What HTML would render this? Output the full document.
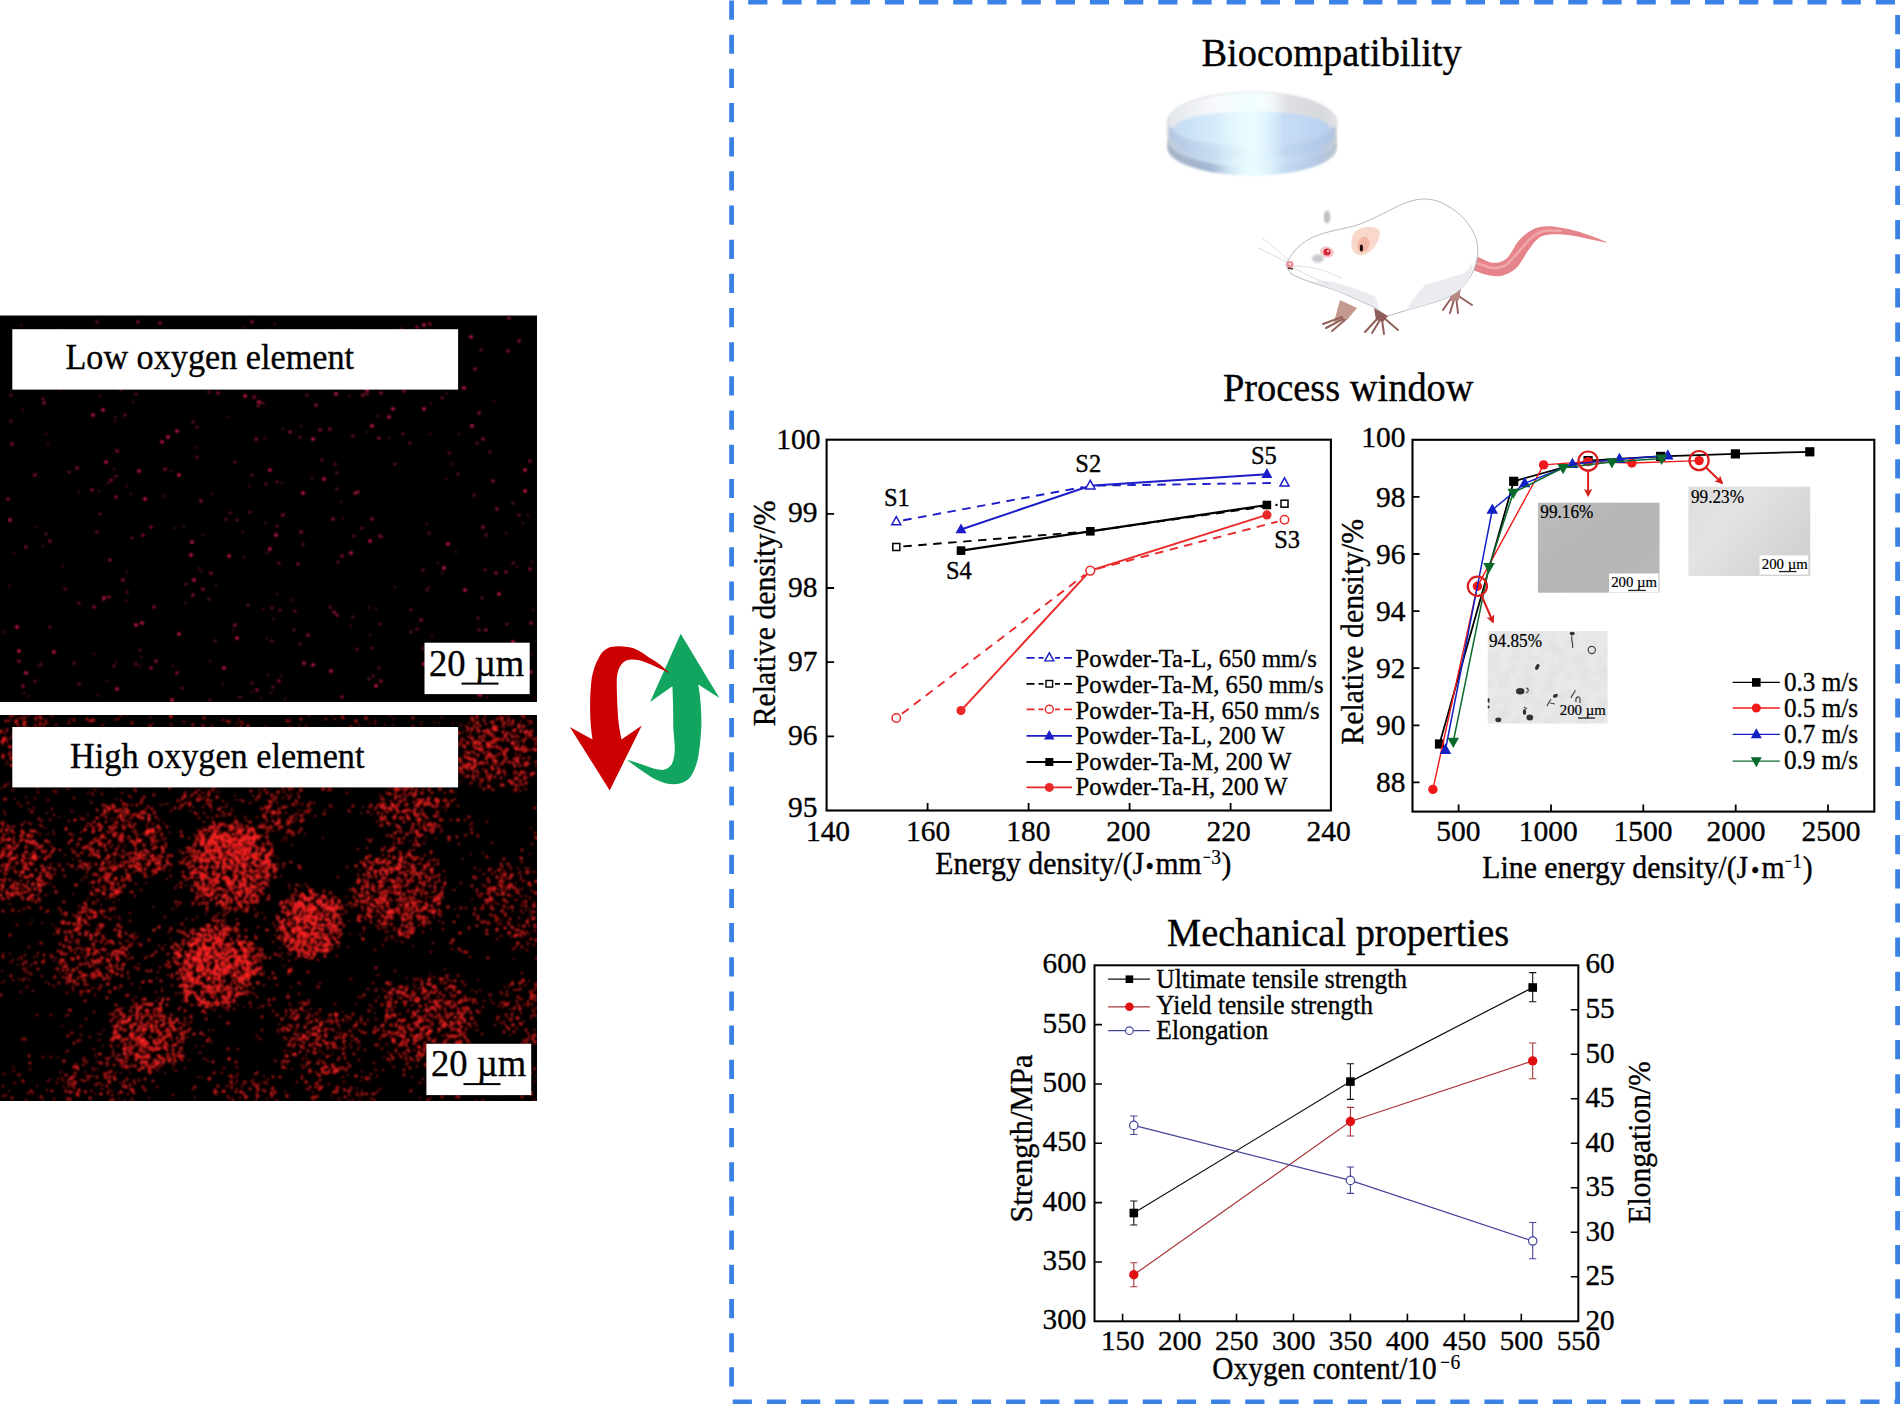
<!DOCTYPE html>
<html lang="en"><head><meta charset="utf-8"><title>Graphical abstract</title>
<style>
html,body{margin:0;padding:0;background:#fff;}
body{width:1900px;height:1404px;overflow:hidden;position:relative;}
svg{position:absolute;left:0;top:0;display:block;}
svg text{font-family:"Liberation Serif",serif;}
</style></head><body>
<svg width="1900" height="1404" viewBox="0 0 1900 1404">
<defs>
<filter id="blur06" x="0" y="0" width="100%" height="100%" filterUnits="userSpaceOnUse"><feGaussianBlur stdDeviation="0.9"/></filter>
<filter id="blur05b" x="0" y="0" width="100%" height="100%" filterUnits="userSpaceOnUse"><feGaussianBlur stdDeviation="0.8"/></filter>
<clipPath id="cpTop"><rect x="0" y="315.5" width="537" height="386.5"/></clipPath>
<clipPath id="cpBot"><rect x="0" y="715" width="537" height="386"/></clipPath>
</defs>
<rect x="0" y="315.5" width="537" height="386.5" fill="#000"/>
<g clip-path="url(#cpTop)"><g filter="url(#blur06)" stroke-linecap="round" fill="none">
<path d="M351,553h0M10,520h0M103,410h0M513,642h0M525,470h0M104,598h0M177,431h0M464,388h0M324,479h0M370,541h0M376,686h0M172,700h0M237,638h0M313,439h0M525,491h0M19,651h0M424,325h0M129,372h0M424,664h0M499,594h0M17,627h0M422,372h0M270,549h0M145,499h0M331,671h0M191,555h0M389,417h0M488,688h0M367,390h0M276,535h0M530,672h0M139,471h0M106,462h0M26,673h0M245,396h0M393,409h0M229,556h0M291,346h0M54,652h0M372,426h0M472,426h0M313,665h0M259,402h0M224,668h0M168,437h0M194,580h0M444,568h0M303,493h0M179,634h0M448,544h0M123,378h0M179,475h0M336,394h0M294,347h0M270,470h0M304,663h0M162,442h0M192,542h0M471,337h0M465,590h0M136,625h0M480,695h0M98,376h0M142,623h0M424,409h0M93,415h0M117,689h0M228,347h0" stroke="#ee2250" stroke-width="3.5"/>
<path d="M425,354h0M355,493h0M379,438h0M337,615h0M406,363h0M50,541h0M486,630h0M23,686h0M320,430h0M386,344h0M151,668h0M34,385h0M307,368h0M138,322h0M363,395h0M381,681h0M92,490h0M380,536h0M383,386h0M428,384h0M508,351h0M453,662h0M256,439h0M417,327h0M123,580h0M284,379h0M483,439h0M475,369h0M218,393h0M387,345h0M252,322h0M342,556h0M506,572h0M160,323h0M257,690h0M358,492h0M404,391h0M23,341h0M201,501h0M334,612h0M493,481h0M193,595h0M235,625h0M479,413h0M530,461h0M111,480h0M519,341h0M60,388h0M121,389h0M94,607h0M283,515h0M530,569h0M8,499h0M86,378h0M342,697h0M440,349h0M203,589h0M531,623h0M330,429h0M290,432h0M211,573h0M109,597h0M12,444h0M349,359h0M483,527h0M177,673h0M301,532h0M156,661h0M308,635h0M430,324h0M143,535h0M372,519h0M165,469h0M509,318h0M19,661h0M254,397h0M494,661h0M110,560h0M44,403h0M381,393h0M316,405h0M496,573h0M26,547h0M154,607h0M151,527h0M497,509h0M298,564h0M279,681h0M421,620h0M168,334h0M333,519h0M35,475h0M77,468h0M348,340h0M117,451h0M295,381h0M116,497h0" stroke="#b81a40" stroke-width="3.2"/>
<path d="M250,512h0M100,514h0M50,627h0M279,563h0M215,641h0M114,666h0M97,532h0M345,363h0M322,460h0M513,503h0M300,644h0M11,421h0M477,693h0M490,452h0M482,651h0M423,648h0M335,464h0M327,349h0M209,599h0M402,329h0M258,406h0M485,570h0M477,443h0M489,654h0M116,476h0M337,489h0M367,394h0M97,322h0M186,584h0M330,607h0M427,679h0M188,350h0M295,611h0M369,679h0M300,437h0M455,688h0M307,395h0M519,515h0M429,533h0M370,343h0M392,365h0M136,394h0M235,462h0M338,562h0M69,472h0M11,395h0M272,608h0M59,332h0M35,681h0M410,443h0M277,482h0M337,473h0M417,629h0M480,654h0M411,610h0M354,536h0M210,700h0M136,664h0M273,687h0M253,383h0M226,519h0M197,427h0M41,664h0M324,362h0M283,365h0M478,618h0M193,422h0M303,544h0M362,528h0M46,534h0M43,399h0M65,589h0M197,457h0M209,392h0M277,526h0M481,350h0M79,603h0M280,610h0M182,688h0M379,668h0M513,563h0M380,624h0M98,342h0M127,592h0M294,630h0M507,624h0M427,590h0M140,650h0M384,355h0M252,683h0M442,398h0M77,354h0M380,387h0M230,513h0M411,632h0M423,570h0M132,538h0M74,663h0M353,436h0M395,464h0M251,373h0M306,384h0M344,332h0M79,684h0M252,475h0M458,474h0M304,664h0M482,598h0M403,434h0M39,366h0M357,649h0M424,365h0M479,630h0M449,453h0M373,676h0M237,520h0M248,605h0M353,617h0M272,641h0M418,381h0M263,403h0M268,331h0M266,484h0M486,535h0M125,415h0M328,333h0M372,648h0M474,495h0M240,697h0" stroke="#78122c" stroke-width="3.0"/>
<path d="M243,532h0M24,693h0M249,486h0M534,698h0M156,345h0M48,445h0M56,341h0M115,421h0M430,434h0M114,469h0M344,356h0M116,417h0M103,600h0M107,681h0M378,416h0M21,325h0M341,502h0M293,600h0M395,587h0M531,654h0M267,553h0M108,483h0M267,638h0M265,438h0M244,327h0M351,626h0M244,557h0M203,535h0M349,396h0M438,563h0M116,662h0M523,523h0M173,666h0M277,594h0M283,429h0M343,518h0M223,684h0M233,630h0M456,552h0M126,601h0M494,401h0M446,479h0M100,396h0M9,586h0M99,491h0M275,324h0M429,587h0M271,693h0M140,666h0M376,609h0M14,553h0M532,562h0M43,546h0M328,340h0M301,426h0M25,378h0M210,661h0M29,696h0M281,676h0M252,692h0M312,478h0M285,699h0M524,668h0M185,603h0M42,364h0M228,417h0M199,568h0M175,528h0M367,432h0M46,434h0M492,677h0M171,471h0M427,524h0M302,385h0M517,567h0M36,527h0M47,349h0M133,402h0M265,523h0M442,573h0M432,637h0M226,374h0M63,566h0M141,657h0M184,527h0M287,376h0M3,632h0M459,434h0M282,378h0M165,496h0M212,494h0M506,533h0M219,346h0M216,585h0M273,619h0M328,378h0M269,372h0M528,515h0M447,393h0M249,365h0M487,697h0M323,365h0M98,695h0M369,608h0M261,698h0M282,483h0M173,339h0M38,666h0M431,403h0M268,675h0M94,654h0M389,438h0M127,572h0M201,571h0M343,352h0M127,486h0M383,537h0M316,352h0M370,635h0M263,609h0M79,492h0M23,410h0M533,610h0M131,494h0M196,447h0M451,464h0" stroke="#420a1a" stroke-width="3.0"/>
</g></g>
<rect x="12.3" y="329.2" width="445.8" height="60.4" fill="#fff"/>
<text transform="translate(65.4,369.3) scale(1,1.045)" font-size="34.2" text-anchor="start" fill="#000" stroke="#000" stroke-width="0.35" >Low oxygen element</text>
<rect x="424.5" y="642.7" width="105.2" height="51.4" fill="#fff"/>
<text transform="translate(429.0,675.8) scale(1,1.045)" font-size="36.6" text-anchor="start" fill="#000" stroke="#000" stroke-width="0.35" >20 µm</text>
<rect x="461.5" y="682.6" width="37" height="2" fill="#000"/>
<rect x="0" y="715" width="537" height="386" fill="#000"/>
<g clip-path="url(#cpBot)"><g filter="url(#blur05b)" stroke-linecap="round" fill="none">
<path d="M189,1060h0M88,793h0M264,1076h0M219,833h0M321,1046h0M299,726h0M519,787h0M336,1088h0M206,914h0M536,766h0M496,746h0M406,1064h0M206,936h0M425,829h0M104,876h0M224,858h0M535,1082h0M268,1084h0M30,924h0M517,772h0M115,720h0M177,1055h0M94,850h0M337,926h0M92,954h0M399,936h0M254,875h0M197,917h0M225,919h0M381,869h0M251,897h0M320,1018h0M362,1077h0M530,854h0M295,907h0M170,833h0M369,1077h0M130,857h0M434,816h0M350,934h0M277,822h0M524,1082h0M361,1016h0M133,943h0M56,754h0M294,1018h0M444,1093h0M387,835h0M7,761h0M170,870h0M177,885h0M436,827h0M146,883h0M56,958h0M26,978h0M49,855h0M185,928h0M258,913h0M510,867h0M289,1004h0M290,888h0M138,814h0M109,748h0M287,759h0M308,1011h0M62,977h0M95,1085h0M70,719h0M189,974h0M11,887h0M404,798h0M483,853h0M513,911h0M204,797h0M238,1005h0M64,876h0M455,909h0M252,901h0M299,810h0M128,838h0M530,724h0M368,897h0M25,840h0M380,795h0M463,859h0M110,970h0M96,902h0M95,1094h0M414,907h0M169,789h0M156,838h0M438,899h0M149,1098h0M127,805h0M159,945h0M510,866h0M457,759h0M347,1021h0M364,862h0M37,1086h0M286,837h0M336,1038h0M239,747h0M510,884h0M302,1075h0M2,828h0M237,738h0M387,860h0M125,1100h0M439,723h0M185,1038h0M406,1055h0M498,1018h0M335,755h0M307,1024h0M91,802h0M480,990h0M381,821h0M13,960h0M332,715h0M324,895h0M47,813h0M395,991h0M521,1072h0M509,722h0M28,968h0M41,742h0M28,972h0M213,1030h0M266,726h0M360,1046h0M266,822h0M220,940h0M246,758h0M109,991h0M362,1071h0M370,1079h0M360,882h0M445,878h0M453,723h0M191,886h0M220,1016h0M353,904h0M198,948h0M106,875h0M183,859h0M387,758h0M46,771h0M227,804h0M11,868h0M313,889h0M134,935h0M159,1030h0M448,980h0M323,1054h0M394,719h0M529,981h0M321,901h0M382,875h0M16,873h0M252,967h0M148,877h0M197,839h0M499,904h0M248,907h0M467,742h0M16,748h0M258,1097h0M457,760h0M120,920h0M12,911h0M524,763h0M136,830h0M292,904h0M332,1054h0M291,987h0M235,859h0M250,749h0M175,1056h0M197,900h0M74,984h0M324,925h0M118,865h0M240,891h0M200,831h0M102,867h0M93,910h0M29,980h0M414,807h0M97,931h0M434,767h0M122,771h0M106,899h0M188,747h0M117,1035h0M125,846h0M421,1058h0M515,929h0M412,1077h0M137,735h0M101,905h0M510,1009h0M254,958h0M344,1049h0M66,1016h0M379,782h0M45,761h0M11,719h0M71,777h0M144,1025h0M256,858h0M401,1046h0M469,723h0M210,841h0M290,1030h0M203,827h0M407,928h0M340,731h0M114,776h0M3,745h0M315,921h0M11,738h0M206,977h0M526,932h0M239,778h0M89,932h0M481,897h0M436,1045h0M381,917h0M70,975h0M26,797h0M398,1031h0M77,949h0M309,959h0M114,806h0M520,1056h0M50,884h0M535,1030h0M436,838h0M279,830h0M504,882h0M284,1031h0M244,960h0M415,891h0M407,978h0M36,849h0M14,858h0M114,836h0M260,826h0M129,772h0M307,1059h0M268,753h0M290,1051h0M397,827h0M499,770h0M56,928h0M193,775h0M442,717h0M96,865h0M36,732h0M190,811h0M96,1057h0M443,1017h0M76,984h0M372,862h0M15,799h0M504,872h0M212,818h0M394,805h0M93,720h0M499,895h0M255,935h0M512,1016h0M282,841h0M159,1068h0M251,857h0M114,902h0M54,869h0M505,1025h0M473,758h0M521,721h0M446,810h0M216,906h0M406,790h0M165,945h0M85,828h0M349,921h0M10,739h0M339,908h0M404,1019h0M384,1057h0M511,937h0M240,800h0M400,863h0M532,1005h0M98,1034h0M310,802h0M488,785h0M32,864h0M74,1081h0M81,928h0M518,868h0M344,1044h0M388,1052h0M491,736h0M405,877h0M291,954h0M253,796h0M373,1008h0M523,913h0M161,805h0M279,828h0M470,998h0M46,877h0M23,864h0M434,917h0M185,1010h0M430,974h0M262,1007h0M286,767h0M434,722h0M73,1087h0M352,1041h0M385,725h0M334,1048h0M236,800h0M491,1000h0M360,741h0M368,879h0M501,874h0M35,962h0M292,1069h0M476,879h0M266,879h0M331,1096h0M342,1012h0M143,1046h0M463,983h0M522,937h0M514,959h0M325,810h0M62,1026h0M295,892h0M14,885h0M529,934h0M494,1061h0M234,970h0M193,902h0M2,983h0M380,817h0M518,874h0M309,1073h0M434,865h0M84,878h0M348,1075h0M198,1077h0M438,1033h0M426,1015h0M235,912h0M181,1007h0M222,812h0M158,742h0M113,731h0M278,1033h0M34,957h0M124,837h0M357,1094h0M158,998h0M371,869h0M213,755h0M282,910h0M150,717h0M241,945h0M431,905h0M323,838h0M291,1005h0M311,1072h0M349,1100h0M193,847h0M432,826h0M100,1083h0M421,864h0M38,758h0M195,930h0M527,942h0M37,768h0M496,1095h0M219,913h0M432,892h0M270,807h0M250,734h0M453,890h0M304,811h0M514,949h0M115,1032h0M455,890h0M193,943h0M67,789h0M309,1072h0M236,952h0M262,871h0M47,736h0M385,816h0M523,786h0M147,780h0M287,840h0M196,1046h0M309,1090h0M235,926h0M6,764h0M109,813h0M22,959h0M165,1073h0M312,1021h0M204,1059h0M237,832h0M166,838h0M136,814h0M132,1100h0M59,817h0M119,955h0M130,1073h0M319,1059h0M303,1042h0M222,807h0M485,723h0M267,1099h0M514,758h0M463,1051h0M255,871h0M160,1039h0M124,1039h0M387,937h0M400,842h0M473,744h0M375,1013h0M96,970h0M40,722h0M284,1037h0M379,997h0M370,1099h0M38,887h0M507,724h0M247,882h0M406,797h0M156,1001h0M455,755h0M259,840h0M259,788h0M292,845h0M186,919h0M239,858h0M529,868h0M5,822h0M129,941h0M165,738h0M73,1092h0M396,1025h0M92,793h0M459,1012h0M282,953h0M517,944h0M100,825h0M294,770h0M360,935h0M375,724h0M268,1004h0M121,1073h0M119,989h0M218,952h0M93,912h0M26,717h0M18,959h0M143,1029h0M393,994h0M531,1019h0M439,879h0M397,994h0M125,854h0M189,806h0M477,878h0M291,1038h0M346,913h0M112,889h0M313,1092h0M455,1059h0M528,944h0M170,1030h0M287,795h0M385,1018h0M182,1001h0M81,1040h0M94,946h0M103,893h0M366,887h0M431,1098h0M349,756h0M372,887h0M439,1055h0M61,913h0M448,746h0M195,1097h0M141,1043h0M261,1006h0M521,875h0M48,834h0M322,900h0M534,1030h0M208,759h0M231,972h0M536,1075h0M137,1057h0M506,887h0M360,1096h0M413,946h0M285,1092h0M142,1000h0M86,877h0M126,715h0M163,950h0M304,814h0M445,969h0M199,904h0M53,831h0M60,741h0M367,839h0M258,1008h0M534,902h0M184,1040h0M135,743h0M232,1078h0M69,722h0M54,978h0M113,845h0M384,895h0M129,1052h0M508,781h0M498,924h0M392,925h0M136,997h0M164,823h0M246,870h0M393,725h0M188,1037h0M372,814h0M396,1052h0M241,847h0M350,890h0M439,921h0M448,801h0M448,1058h0M336,773h0M535,773h0M152,1047h0M480,1011h0M243,781h0M12,840h0M190,802h0M104,814h0M414,984h0M203,1046h0M173,986h0M533,892h0M221,816h0M67,970h0M140,988h0M424,822h0M320,934h0M3,898h0M340,731h0M379,903h0M211,896h0M220,873h0M18,965h0M115,917h0M254,729h0M348,947h0M92,747h0M128,974h0M10,954h0M100,877h0M208,1061h0M147,1014h0M171,939h0M306,1055h0M200,997h0M331,1024h0M419,878h0M315,731h0M491,766h0M276,812h0M350,1044h0M239,719h0M443,807h0M246,976h0M104,1073h0M373,756h0M443,898h0M404,818h0M77,847h0M264,972h0M259,952h0M92,803h0M134,754h0M104,809h0M40,848h0M38,858h0M532,918h0M119,900h0M54,934h0M171,763h0M102,964h0M50,783h0M421,725h0M125,933h0M188,1024h0M529,1035h0M89,844h0M22,889h0M520,1047h0M98,1069h0M45,743h0M13,1067h0M4,981h0M68,789h0M122,974h0M306,1019h0M500,1094h0M284,966h0M378,748h0M297,801h0M356,1004h0M307,1024h0M529,750h0M384,762h0M513,983h0M108,1065h0M172,1063h0M390,716h0M224,816h0M127,825h0M173,909h0M89,850h0M96,778h0M120,1083h0M19,727h0M312,903h0M420,845h0M497,756h0M100,837h0M311,911h0M112,809h0M379,734h0M50,1079h0M350,750h0M458,975h0M113,1049h0M301,886h0M145,864h0M28,742h0M526,872h0M327,1056h0M100,923h0M412,827h0M75,970h0M32,964h0M110,1057h0M134,1003h0M8,834h0M407,1065h0M12,747h0M134,933h0M179,850h0M180,852h0M90,883h0M379,900h0M370,723h0M259,766h0M114,1099h0M148,823h0M137,1023h0M86,959h0M331,790h0M65,855h0M470,735h0M465,740h0M513,981h0M396,892h0M242,1092h0M115,1011h0M264,975h0M193,807h0M146,1067h0M370,874h0M389,985h0M234,845h0M268,1079h0M373,1008h0M290,749h0M200,859h0M112,1091h0M211,1009h0M510,932h0M472,899h0M96,826h0M228,961h0M158,1033h0M292,1014h0M202,743h0M87,777h0M119,1099h0M173,1069h0M263,836h0M288,994h0M42,923h0M426,991h0M139,964h0M191,786h0M376,1000h0M233,949h0M440,897h0M444,888h0M73,745h0M168,967h0M208,802h0M68,1082h0M152,1066h0M158,1043h0M362,1090h0M475,741h0M282,1063h0M110,909h0M372,896h0M170,1020h0M171,985h0M125,755h0M255,994h0M152,982h0M63,765h0M134,1045h0M32,874h0M229,999h0M118,883h0M500,740h0M99,954h0M309,716h0M252,956h0M153,724h0M3,888h0M185,1068h0M14,839h0M364,932h0M142,834h0M386,928h0M139,1081h0M32,886h0M361,813h0M221,837h0M426,874h0M168,804h0M427,865h0M221,889h0M246,850h0M278,815h0M260,791h0M140,1057h0M384,739h0M235,1084h0M54,961h0M268,821h0M101,950h0M520,741h0M209,1030h0M193,935h0M378,749h0M460,1012h0M510,1035h0M506,1085h0M259,896h0M415,838h0M278,858h0M47,867h0M190,798h0M96,819h0M230,837h0M212,811h0M232,892h0M31,965h0M340,1028h0M157,978h0M158,841h0M516,791h0M323,1021h0M107,1066h0M276,1061h0M294,1014h0M40,902h0M136,1061h0M46,912h0M202,1077h0M495,1047h0M23,1082h0M279,1024h0M88,899h0M372,839h0M305,834h0M504,907h0M115,1079h0M238,981h0M530,1044h0M84,1057h0M521,878h0M79,906h0M354,728h0M117,1017h0M125,1039h0M127,934h0M517,1003h0M117,895h0M410,841h0M153,1067h0M220,895h0M531,828h0M213,917h0M114,859h0M118,1094h0M40,873h0M349,890h0M392,901h0M218,1092h0M66,828h0M96,895h0M32,920h0M477,1026h0M241,763h0M528,732h0M361,1081h0M87,909h0M281,876h0M410,1057h0M524,743h0M516,883h0M180,1058h0M10,828h0M25,718h0M21,772h0M349,759h0M218,827h0M2,971h0M134,816h0M520,999h0M224,977h0M389,880h0M440,776h0M335,746h0M288,975h0M428,798h0M396,941h0M91,978h0M276,915h0M431,929h0M455,1046h0M150,1058h0M216,1095h0M512,884h0M508,1018h0M37,956h0M472,990h0M509,1002h0M395,865h0M170,1060h0M61,913h0M79,964h0M23,717h0M388,931h0M225,922h0M282,808h0M120,1028h0M297,1040h0M486,933h0M303,820h0M161,836h0M364,903h0M97,890h0M357,1088h0M424,799h0M534,991h0M294,805h0M109,833h0M283,959h0M235,796h0M25,717h0M459,1010h0M115,1018h0M60,973h0M337,1021h0M284,838h0M37,728h0M470,825h0M488,747h0M398,997h0M359,725h0M433,1022h0M182,1051h0M148,862h0M85,950h0M66,1052h0M382,989h0M478,980h0M81,880h0M330,784h0M136,791h0M218,792h0M8,867h0M420,902h0M202,861h0M343,1067h0M522,907h0M7,874h0M350,1044h0M424,1011h0M209,792h0M91,847h0M505,987h0M85,1064h0M66,1092h0M226,885h0M424,867h0M315,1084h0M79,766h0M72,973h0M264,870h0M307,925h0M532,991h0M463,732h0M337,1033h0M105,886h0M113,1042h0M165,804h0M73,859h0M275,935h0M29,809h0M427,746h0M124,880h0M237,723h0M111,832h0M116,1056h0M514,780h0M53,925h0M439,1066h0M454,792h0M530,909h0M169,1023h0M471,854h0M407,782h0M470,1043h0M335,911h0M106,939h0M376,925h0M362,998h0M426,838h0M129,953h0M88,815h0M85,1072h0M205,941h0M526,910h0M422,722h0M45,828h0M10,904h0M501,1078h0M18,757h0M86,755h0M127,1055h0M210,862h0M123,807h0M58,782h0M492,889h0M170,1017h0M512,723h0M374,810h0M530,731h0M98,964h0M346,897h0M1,788h0M392,1041h0M303,927h0M367,1079h0M375,1094h0M319,1085h0M116,799h0M311,1009h0M477,893h0M407,988h0M398,904h0M531,915h0M104,917h0M480,1093h0M460,782h0M418,864h0M230,733h0M259,826h0M450,1035h0M186,885h0M320,1089h0M67,937h0M235,817h0M103,1046h0M524,1021h0M31,965h0M244,1007h0M95,1054h0M93,963h0M437,1063h0M469,737h0M292,1027h0M75,950h0M25,859h0M426,924h0M44,853h0M67,977h0M425,822h0M17,720h0M73,894h0M296,814h0M232,1086h0M13,766h0M242,1087h0M453,1063h0M58,1057h0M437,1056h0M162,988h0M164,840h0M104,1030h0M317,758h0M69,1087h0M500,716h0M449,806h0M40,727h0M19,979h0M294,835h0M111,976h0M181,1023h0M499,890h0M151,808h0M316,1027h0M13,758h0M153,907h0M384,849h0M388,916h0M113,787h0M196,771h0M417,843h0M185,880h0M433,1002h0M393,888h0M393,846h0M521,858h0M480,870h0M531,890h0M220,1004h0M394,868h0M132,723h0M515,900h0M118,936h0M43,1099h0M501,920h0M241,905h0M281,784h0M443,929h0M170,740h0M148,807h0M58,1079h0M505,916h0M71,1084h0M308,812h0M396,1023h0M206,1059h0M121,1010h0M125,885h0M300,921h0M409,935h0M46,982h0M422,896h0M333,1022h0M110,828h0M9,1091h0M399,987h0M322,904h0M439,994h0M420,1098h0M23,759h0M408,871h0M515,935h0M40,857h0M152,860h0M326,1074h0M262,913h0M58,751h0M432,908h0M301,740h0M113,1056h0M414,979h0M83,949h0M5,873h0M99,885h0M101,1034h0M280,948h0M249,942h0M1,731h0M360,870h0M363,807h0M512,896h0M4,811h0M454,986h0M132,831h0M64,749h0M243,988h0M290,766h0M251,1082h0" stroke="#5c0c0c" stroke-width="2.6"/>
<path d="M348,1063h0M162,948h0M197,938h0M30,1069h0M295,907h0M315,1028h0M399,1054h0M403,915h0M473,774h0M87,826h0M253,1080h0M27,868h0M216,920h0M504,1022h0M28,1093h0M430,860h0M246,978h0M217,925h0M128,972h0M91,892h0M30,908h0M219,842h0M88,985h0M179,1054h0M223,1092h0M48,800h0M383,886h0M468,737h0M18,891h0M391,892h0M87,1076h0M119,891h0M449,1017h0M387,905h0M314,803h0M338,900h0M112,805h0M187,848h0M388,880h0M316,937h0M229,1058h0M237,987h0M113,868h0M403,920h0M38,883h0M14,833h0M273,872h0M520,872h0M129,1018h0M375,899h0M315,1034h0M152,1016h0M183,932h0M71,951h0M522,773h0M107,977h0M209,950h0M60,866h0M429,979h0M280,820h0M422,1031h0M24,909h0M401,887h0M465,836h0M181,974h0M75,941h0M113,1019h0M397,809h0M375,781h0M71,958h0M129,1050h0M207,765h0M166,847h0M530,898h0M384,870h0M400,913h0M263,1006h0M239,849h0M420,1048h0M320,1051h0M297,948h0M329,1056h0M251,1007h0M391,983h0M506,879h0M471,1027h0M312,925h0M522,862h0M190,940h0M208,817h0M224,910h0M360,1101h0M501,1003h0M264,985h0M174,1065h0M119,959h0M199,981h0M108,954h0M479,896h0M309,804h0M459,1021h0M465,777h0M254,903h0M62,770h0M367,753h0M228,776h0M420,1022h0M14,867h0M201,839h0M284,927h0M227,859h0M31,750h0M471,732h0M330,939h0M440,819h0M268,886h0M519,737h0M227,905h0M382,1035h0M85,985h0M169,748h0M259,873h0M426,898h0M1,823h0M380,826h0M343,1037h0M42,976h0M175,888h0M420,821h0M313,912h0M187,857h0M258,927h0M64,914h0M408,891h0M527,1043h0M409,1052h0M382,816h0M248,981h0M317,1033h0M415,993h0M133,1000h0M446,1016h0M376,1070h0M238,994h0M413,829h0M525,985h0M295,1044h0M81,977h0M237,910h0M105,742h0M464,1009h0M495,1025h0M479,895h0M185,1001h0M237,1067h0M394,843h0M177,906h0M499,885h0M297,891h0M306,899h0M231,862h0M347,867h0M86,1092h0M259,1084h0M36,727h0M416,791h0M272,1097h0M260,1039h0M151,1015h0M135,814h0M456,1097h0M152,1021h0M4,741h0M45,777h0M410,774h0M441,1044h0M243,837h0M136,884h0M42,719h0M111,808h0M20,741h0M197,814h0M14,758h0M502,890h0M227,1086h0M358,1049h0M289,961h0M63,924h0M506,734h0M228,835h0M347,1035h0M245,864h0M326,1022h0M474,780h0M207,834h0M533,739h0M77,930h0M132,1099h0M16,732h0M130,1055h0M258,954h0M387,1044h0M390,1018h0M357,1022h0M272,1091h0M461,1032h0M171,725h0M404,886h0M292,835h0M217,866h0M158,760h0M206,925h0M1,851h0M358,849h0M204,1035h0M378,926h0M111,771h0M444,1041h0M387,1002h0M88,823h0M68,1100h0M342,923h0M102,1085h0M503,1060h0M250,857h0M320,1011h0M82,819h0M156,1049h0M229,815h0M417,1066h0M3,1096h0M450,993h0M516,754h0M491,901h0M33,884h0M330,1043h0M5,733h0M287,820h0M241,754h0M180,1033h0M197,878h0M202,799h0M58,745h0M19,911h0M225,814h0M409,882h0M13,892h0M472,759h0M520,791h0M208,960h0M422,902h0M501,924h0M444,885h0M486,759h0M244,878h0M530,991h0M202,985h0M428,1036h0M162,868h0M492,736h0M519,918h0M255,845h0M487,923h0M36,858h0M228,1010h0M3,1086h0M366,881h0M154,840h0M240,756h0M102,843h0M531,1016h0M156,992h0M296,948h0M114,771h0M535,837h0M331,759h0M458,916h0M160,967h0M336,897h0M277,813h0M51,846h0M379,929h0M367,848h0M164,870h0M271,864h0M453,1013h0M93,721h0M108,862h0M101,957h0M35,798h0M268,827h0M209,935h0M155,812h0M223,720h0M441,983h0M117,1031h0M45,745h0M114,897h0M158,832h0M447,1055h0M368,883h0M307,1089h0M250,803h0M241,950h0M67,993h0M48,762h0M48,1081h0M154,1009h0M296,1010h0M228,842h0M210,952h0M468,727h0M265,827h0M467,752h0M378,1045h0M359,759h0M441,1018h0M223,1006h0M414,850h0M526,738h0M447,1001h0M257,1092h0M413,1012h0M331,807h0M204,822h0M328,1020h0M296,918h0M291,795h0M490,896h0M358,1043h0M140,762h0M288,831h0M45,733h0M440,820h0M112,819h0M22,1039h0M95,950h0M13,790h0M126,933h0M438,816h0M167,859h0M515,930h0M224,851h0M297,1036h0M258,899h0M465,1078h0M460,1042h0M145,873h0M126,1056h0M192,783h0M244,851h0M372,896h0M50,753h0M106,917h0M464,1023h0M236,859h0M487,772h0M142,1008h0M404,1026h0M446,1055h0M420,863h0M278,1030h0M424,1046h0M49,759h0M70,981h0M119,845h0M467,1007h0M353,1100h0M117,869h0M459,844h0M256,1100h0M10,747h0M204,894h0M15,745h0M413,781h0M274,871h0M458,976h0M308,946h0M483,769h0M44,960h0M504,871h0M232,1088h0M76,1064h0M389,887h0M186,999h0M238,930h0M75,1083h0M202,967h0M335,1044h0M382,1049h0M193,920h0M420,801h0M409,794h0M141,890h0M466,835h0M9,855h0M297,1082h0M328,791h0M413,905h0M130,913h0M276,732h0M109,736h0M9,721h0M266,829h0M102,1089h0M195,835h0M329,944h0M502,884h0M174,944h0M130,1034h0M111,866h0M137,937h0M316,775h0M529,926h0M47,1090h0M94,979h0M395,928h0M435,801h0M257,1036h0M425,855h0M118,848h0M19,843h0M460,772h0M180,1042h0M257,982h0M420,1083h0M480,786h0M372,904h0M133,1040h0M405,898h0M313,934h0M298,930h0M236,870h0M121,716h0M147,774h0M361,1022h0M338,1048h0M515,1007h0M238,970h0M46,722h0M84,911h0M200,966h0M167,1056h0M83,980h0M130,823h0M23,747h0M498,773h0M171,811h0M231,1087h0M358,875h0M265,877h0M124,1017h0M221,839h0M81,1035h0M408,795h0M506,715h0M61,910h0M237,1089h0M121,800h0M523,759h0M77,948h0M24,755h0M304,754h0M527,871h0M268,841h0M55,869h0M524,1005h0M237,1081h0M529,1038h0M441,1061h0M391,769h0M296,906h0M38,953h0M241,837h0M440,781h0M11,887h0M501,992h0M158,1064h0M391,873h0M195,939h0M535,882h0M344,1089h0M25,745h0M63,1081h0M283,867h0M347,1068h0M157,1070h0M10,848h0M116,850h0M241,850h0M185,983h0M146,1046h0M414,1050h0M424,926h0M255,1074h0M393,893h0M338,1025h0M495,731h0M150,1070h0M406,879h0M532,999h0M98,732h0M208,795h0M436,1039h0M431,952h0M260,779h0M223,904h0M126,1039h0M489,755h0M311,1022h0M102,914h0M275,1061h0M425,1009h0M191,1022h0M506,890h0M302,1065h0M504,727h0M489,742h0M310,1062h0M433,901h0M439,896h0M237,828h0M159,1017h0M26,1100h0M325,786h0M446,976h0M272,1089h0M527,950h0M297,814h0M375,873h0M215,1010h0M286,813h0M139,842h0M427,1067h0M387,835h0M234,871h0M33,883h0M46,895h0M338,947h0M162,991h0M19,751h0M504,1002h0M332,1065h0M315,816h0M308,1023h0M516,730h0M212,899h0M290,751h0M481,762h0M156,873h0M223,986h0M522,999h0M226,1008h0M29,947h0M501,881h0M331,893h0M139,944h0M170,967h0M442,1027h0M311,952h0M286,903h0M3,880h0M474,772h0M440,992h0M391,811h0M387,891h0M418,836h0M482,1034h0M497,1020h0M412,1005h0M203,793h0M512,725h0M304,923h0M377,1076h0M395,886h0M307,940h0M257,1095h0M73,960h0M257,997h0M66,963h0M405,783h0M300,933h0M82,953h0M97,972h0M522,973h0M502,994h0M483,1100h0M31,734h0M0,733h0M480,745h0M326,1033h0M130,877h0M247,877h0M387,1014h0M445,800h0M460,1036h0M42,766h0M237,961h0M81,1080h0M227,913h0M302,816h0M430,788h0M420,1038h0M502,1045h0M333,897h0M93,875h0M507,991h0M26,887h0M413,898h0M277,803h0M113,1037h0M302,804h0M93,795h0M448,1016h0M98,969h0M294,939h0M75,981h0M109,1090h0M525,764h0M87,915h0M338,765h0M422,911h0M228,1096h0M88,846h0M293,804h0M419,925h0M258,1086h0M136,1046h0M191,855h0M532,1004h0M1,857h0M128,959h0M122,862h0M201,893h0M297,804h0M346,1016h0M457,759h0M508,908h0M110,1014h0M116,1073h0M185,859h0M110,767h0M42,826h0M415,903h0M371,863h0M126,941h0M238,951h0M98,818h0M174,949h0M314,943h0M514,747h0M109,876h0M86,910h0M499,882h0M70,841h0M209,987h0M81,818h0M45,755h0M42,770h0M467,769h0M514,759h0M331,1020h0M373,983h0M334,930h0M279,828h0M45,764h0M192,983h0M14,771h0M317,763h0M364,1094h0M49,984h0M8,784h0M114,908h0M465,820h0M193,960h0M267,751h0M428,1034h0M339,1099h0M419,906h0M38,895h0M236,1077h0M29,870h0M224,840h0M110,1083h0M301,815h0M441,994h0M389,916h0M81,965h0M521,879h0M328,764h0M129,796h0M429,980h0M113,748h0M303,1068h0M529,764h0M89,1076h0M494,740h0M118,754h0M429,999h0M428,772h0M381,1026h0M4,1074h0M128,821h0M408,1063h0M99,757h0M277,985h0M209,889h0M169,932h0M219,851h0M132,805h0M51,1057h0M267,867h0M522,1043h0M110,895h0M527,778h0M10,716h0M501,936h0M423,1079h0M437,807h0M111,887h0M293,895h0M375,950h0M444,871h0M192,972h0M220,784h0M238,932h0M423,932h0M318,1096h0M517,1001h0M418,979h0M352,907h0M390,985h0M314,1048h0M415,874h0M106,838h0M318,914h0M165,1031h0M182,743h0M300,1003h0M26,842h0M227,986h0M128,1059h0M465,1033h0M485,716h0M262,810h0M225,945h0M109,810h0M535,1068h0M176,1071h0M146,851h0M431,1009h0M197,858h0M343,1053h0M390,862h0M457,1096h0M35,725h0M163,781h0M163,849h0M291,904h0M455,730h0M411,892h0M383,855h0M452,949h0M241,722h0M323,933h0M196,900h0M366,900h0M236,874h0M496,903h0M157,1032h0M51,879h0M236,827h0M471,829h0M234,1009h0M415,1028h0M519,925h0M146,809h0M264,845h0M534,1069h0M265,918h0M384,809h0M111,959h0M521,896h0M248,902h0M25,859h0M357,729h0M73,835h0M407,898h0M87,873h0M506,886h0M158,972h0M286,1039h0M65,876h0M519,749h0M439,897h0M273,942h0M317,1037h0M200,796h0M241,973h0M46,762h0M56,792h0M13,827h0M528,944h0M193,877h0M5,814h0M284,934h0M440,1010h0M285,1038h0M268,882h0M252,839h0M410,882h0M523,881h0M533,1010h0M158,856h0M309,927h0M220,946h0M395,1007h0M269,978h0M436,1012h0M93,988h0M125,1051h0M415,999h0M17,925h0M383,945h0M120,866h0M196,965h0M354,1027h0M444,801h0M183,1043h0M284,944h0M484,1063h0M269,854h0M146,1043h0M199,790h0M86,991h0M117,811h0M376,1001h0M415,980h0M136,1056h0M356,890h0M154,757h0M534,1011h0M401,862h0M315,950h0M123,1061h0M82,949h0M105,847h0M359,1060h0M389,907h0M486,724h0M62,1078h0M365,918h0M145,958h0M189,865h0M130,1011h0M399,802h0M5,870h0M306,943h0M368,893h0M257,817h0M431,851h0M163,1058h0M306,884h0M528,919h0M407,1040h0M111,884h0M139,1080h0M55,874h0M203,896h0M157,1028h0M390,995h0M214,934h0M83,977h0M452,1028h0M228,958h0M99,925h0M114,1013h0M496,756h0M491,869h0M304,1048h0M326,719h0M422,981h0M249,871h0M417,997h0M110,911h0M490,748h0M45,766h0M70,1100h0M145,877h0M537,1016h0M78,856h0M334,1073h0M438,860h0M443,923h0M184,967h0M479,773h0M213,945h0M278,734h0M241,950h0M286,1015h0M144,812h0M127,1022h0M227,721h0M188,849h0M289,1061h0M494,759h0M230,845h0M68,1084h0M246,820h0M211,1042h0M297,1027h0M212,851h0M103,725h0M90,1037h0M228,989h0M135,1084h0M378,975h0M16,738h0M159,820h0M66,916h0M484,1001h0M87,915h0M151,956h0M324,1031h0M158,841h0M167,1028h0M34,841h0M53,765h0M320,1031h0M441,1021h0M115,909h0M370,909h0M165,1041h0M430,978h0M184,861h0M56,725h0M245,817h0M160,1008h0M117,1016h0M210,1078h0M508,922h0M279,762h0M249,907h0M77,869h0M105,944h0M337,746h0M524,881h0M184,1036h0M111,862h0M201,837h0M296,1030h0M309,1000h0M204,883h0M470,1012h0M204,899h0M131,892h0M294,1054h0M148,806h0M379,893h0M75,1076h0M287,807h0M330,1069h0M386,932h0M194,930h0M93,849h0M381,901h0M118,1046h0M23,839h0M451,981h0M529,872h0M39,732h0M100,840h0M309,955h0M224,1003h0M207,804h0M404,1039h0M526,766h0M483,1007h0M383,928h0M483,923h0M137,838h0M53,740h0M218,961h0M84,819h0M534,1100h0M231,861h0M528,721h0M513,724h0M451,820h0M162,1039h0M196,942h0M49,770h0M524,926h0M391,998h0M85,957h0M167,879h0M393,774h0M21,754h0M413,873h0M329,911h0M157,1046h0M278,955h0M101,961h0M123,1022h0M313,1052h0M147,835h0M388,920h0M359,1041h0M110,875h0M245,975h0M325,919h0M243,1084h0M367,915h0M87,826h0M86,1019h0M66,932h0M536,738h0M26,747h0M68,1080h0M108,855h0M503,764h0M516,735h0M67,1098h0M155,1047h0M134,872h0M300,897h0M385,810h0M395,799h0M533,1036h0M73,915h0M525,1042h0M74,798h0M260,794h0M309,951h0M54,791h0M214,890h0M443,755h0M108,864h0M373,1099h0M302,1007h0M87,948h0M386,874h0M318,960h0M132,867h0M189,838h0M461,951h0M148,1058h0M368,989h0M308,944h0M121,1042h0M121,865h0M296,819h0M123,1063h0M244,854h0M472,823h0M315,936h0M441,1007h0M507,1005h0M117,833h0M492,905h0M429,980h0M131,1027h0M416,1016h0M496,741h0M345,1047h0M247,826h0M223,812h0M394,1067h0M509,717h0M416,805h0M467,731h0M442,895h0M279,938h0M424,874h0M82,991h0M15,715h0M299,940h0M475,1022h0M524,765h0M223,991h0M339,1025h0M401,854h0M30,770h0M241,837h0M147,957h0M9,754h0M74,1088h0M517,1028h0M294,816h0M445,793h0M254,896h0M338,877h0M94,1049h0M231,753h0M99,841h0M120,855h0M403,789h0M484,874h0M530,737h0M170,855h0M29,715h0M400,1032h0M461,725h0M25,955h0M347,905h0M285,1051h0M137,859h0M487,822h0M21,957h0M394,746h0M492,758h0M20,718h0M141,812h0M28,858h0M448,975h0M316,913h0M238,1049h0M347,743h0M530,750h0M30,854h0M122,1008h0M447,1057h0M70,980h0M522,931h0M54,1099h0M385,991h0M122,892h0M224,938h0M525,764h0M115,929h0M461,883h0M118,1024h0M177,1056h0M443,1036h0M115,894h0M43,1057h0M206,1013h0M181,1059h0M93,832h0M11,962h0M357,1095h0M225,826h0M421,894h0M496,742h0M109,747h0M81,920h0M306,1066h0M74,1083h0M290,1043h0M28,900h0M28,803h0M473,720h0M226,855h0M112,1095h0M492,874h0M89,925h0M216,882h0M404,926h0M105,881h0M433,766h0M93,887h0M419,989h0M395,971h0M14,841h0M302,820h0M181,761h0M104,950h0M429,738h0M517,1089h0M106,868h0M330,1029h0M88,985h0M136,867h0M55,736h0M122,877h0M290,1041h0M417,908h0M115,967h0M370,1005h0M326,934h0M288,781h0M316,921h0M228,1002h0M400,797h0M24,758h0M134,938h0M123,881h0M372,780h0M243,911h0M469,1000h0M377,1092h0M357,1093h0M10,861h0M191,867h0M388,982h0M289,824h0M261,808h0M26,972h0M341,1033h0M520,774h0M10,887h0M173,1095h0M343,909h0M256,800h0M214,921h0M316,1072h0M291,789h0M146,1057h0M455,1050h0M135,1084h0M236,968h0M497,939h0M515,1007h0M54,782h0M391,1036h0M56,969h0M525,935h0M193,981h0M4,864h0M359,997h0M404,738h0M241,835h0M197,799h0M204,813h0M447,729h0M271,805h0M214,983h0M130,1067h0M418,857h0M323,1068h0M96,838h0M223,758h0M28,770h0M336,1018h0M64,977h0M240,1098h0M299,1034h0M423,1021h0M291,902h0M141,819h0M191,877h0M208,799h0M370,856h0M310,803h0M518,935h0M534,945h0M493,900h0M526,747h0M499,1006h0M436,807h0M219,931h0M453,1001h0M465,985h0M423,889h0M168,1046h0M63,954h0M187,852h0M180,1029h0M485,921h0M248,906h0M21,881h0M462,768h0M140,1046h0M147,826h0M71,977h0M106,1058h0M89,1078h0M91,842h0M38,792h0M219,809h0M94,839h0M443,929h0M391,992h0M3,954h0M59,864h0M376,1019h0M319,1090h0M284,792h0M59,908h0M343,1049h0M388,1004h0M306,726h0M28,774h0M479,1013h0M15,1083h0M300,907h0M483,905h0M344,1082h0M96,912h0M157,1087h0M337,956h0M483,885h0M426,1064h0M185,1021h0M293,822h0M198,830h0M475,868h0M288,954h0M117,951h0M150,1024h0M286,1068h0M261,848h0M301,1039h0M296,959h0M30,891h0M131,797h0M246,960h0M528,1071h0M298,793h0M98,1062h0M79,957h0M124,866h0M329,1084h0M289,970h0M126,996h0M127,874h0M117,818h0M129,978h0M34,808h0M47,723h0M402,882h0M73,987h0M224,844h0M515,738h0M46,883h0M298,1026h0M111,847h0M296,1055h0M531,912h0M6,845h0M83,1065h0M340,900h0M110,898h0M430,897h0M273,923h0M172,1015h0M203,856h0M245,878h0M430,923h0M226,926h0M51,955h0M293,1047h0M371,1074h0M354,1026h0M123,803h0M161,1006h0M226,968h0M458,806h0M69,821h0M404,1032h0M329,1021h0M420,828h0M240,974h0M55,870h0M233,838h0M433,943h0M231,928h0M495,872h0M59,962h0M351,1047h0M131,741h0M387,836h0M325,1035h0M91,976h0M494,758h0M473,1093h0M233,823h0M438,813h0M526,868h0M343,1069h0M237,919h0M94,955h0M29,835h0M43,885h0M434,1085h0M521,911h0M335,1070h0M223,801h0M54,815h0M269,879h0M390,788h0M54,887h0M480,779h0M363,886h0M349,1095h0M68,1051h0M23,736h0M320,1039h0M79,906h0M466,726h0M235,955h0M499,1050h0M232,1076h0M17,856h0M535,989h0M527,762h0M376,916h0M517,736h0M521,1013h0M285,919h0M171,876h0M13,767h0M176,994h0M295,889h0M96,765h0M9,853h0M520,755h0M246,1098h0M287,833h0M51,864h0M332,899h0M396,775h0M300,733h0M371,736h0M351,979h0M303,1002h0M204,994h0M51,864h0M423,789h0M427,1083h0M136,1005h0M16,756h0M202,877h0M492,1093h0M204,1012h0M93,720h0M141,817h0M439,753h0M441,832h0M141,1031h0M234,909h0M122,793h0M191,1005h0M454,747h0M153,1051h0M320,983h0M203,807h0M472,828h0M477,1003h0M431,1089h0M91,867h0M129,867h0M14,1071h0M98,900h0M447,978h0M385,847h0M310,934h0M418,1046h0M72,811h0M342,1049h0M83,974h0M510,733h0M187,963h0M256,896h0M116,1059h0M359,1030h0M208,741h0M257,798h0M299,994h0M128,1094h0M244,971h0M143,999h0M380,1089h0M227,826h0M92,1076h0M404,900h0M297,948h0M18,725h0M46,755h0M511,869h0M368,1020h0M303,1059h0M314,941h0M522,751h0M535,750h0M383,893h0M452,1036h0M6,1095h0M526,896h0M415,987h0M34,854h0M426,909h0M347,793h0M40,825h0M225,877h0M90,863h0M81,832h0M21,750h0M457,1090h0M487,747h0M320,1009h0M20,872h0M2,858h0M386,807h0M33,1093h0M186,971h0M168,961h0M414,1044h0M293,785h0M95,790h0M146,1024h0M14,837h0M478,722h0M296,904h0M471,764h0M264,1083h0M524,1040h0M440,1062h0M342,914h0M208,863h0M481,909h0M504,1003h0M205,955h0M466,908h0M392,938h0M473,1003h0M368,908h0M119,930h0M319,1029h0M356,772h0M168,975h0M162,1011h0M223,905h0M223,934h0M442,888h0M167,1031h0M365,1050h0M216,935h0M122,1062h0M239,993h0M261,870h0M313,1016h0M235,932h0M228,935h0M390,1033h0M374,1063h0M193,1089h0M233,859h0M177,1030h0M17,856h0M86,912h0M514,774h0M308,887h0M358,894h0M382,904h0M60,929h0M213,729h0M502,726h0M204,957h0M272,1095h0M441,916h0M528,1033h0M118,719h0M487,778h0M338,1060h0M69,932h0M256,948h0M419,807h0M506,915h0M402,942h0M27,987h0M476,1101h0M249,838h0M496,921h0M275,746h0M375,1101h0M157,746h0M28,907h0M273,831h0M125,1086h0M94,948h0M342,716h0M320,918h0M131,1025h0M196,744h0M292,728h0M532,844h0M238,826h0M478,744h0M297,804h0M100,868h0M485,886h0M158,1055h0M392,936h0M290,832h0M441,912h0M270,1005h0M132,1046h0M58,731h0M375,721h0M14,826h0M490,896h0M40,729h0M46,720h0M23,719h0M275,800h0M192,857h0M208,986h0M16,743h0M87,1062h0M61,951h0M31,824h0M519,918h0M447,1017h0M452,1035h0M384,800h0M254,838h0M509,986h0M317,923h0M33,991h0M37,1015h0M200,1053h0M536,1008h0M325,916h0M102,794h0M9,746h0M219,977h0M57,1083h0M4,899h0M68,864h0M390,889h0M184,987h0M165,772h0M134,731h0M400,1014h0M204,830h0M407,995h0M471,1019h0M437,876h0M498,719h0M289,885h0M117,749h0M303,747h0M391,880h0M322,1061h0M317,1014h0M156,1015h0M264,825h0M27,892h0M434,831h0M252,993h0M470,957h0M516,892h0M60,929h0M382,1036h0M335,719h0M380,898h0M390,778h0M409,932h0M184,722h0M13,980h0M153,824h0M228,947h0M132,1049h0M246,897h0M395,1034h0M238,1074h0M277,739h0M377,822h0M274,856h0M141,866h0M271,1093h0M66,973h0M441,1006h0M398,831h0M165,738h0M50,820h0M246,991h0M132,984h0M108,984h0M283,798h0M247,908h0M75,953h0M461,1012h0M338,1068h0M94,966h0M522,904h0M467,764h0M405,805h0M417,789h0M115,862h0M80,948h0M410,811h0M477,1030h0M476,992h0M362,916h0M42,821h0M223,968h0M199,818h0M273,799h0M99,1040h0M185,987h0M380,756h0M72,934h0M185,1018h0M191,1018h0M279,808h0M535,833h0M414,825h0M94,1070h0M363,887h0M232,810h0M378,904h0M366,919h0M129,761h0M281,940h0M7,742h0M212,726h0M105,838h0M129,814h0M412,858h0M343,1077h0M25,822h0M266,1082h0M421,980h0M110,1101h0M520,775h0M18,803h0M508,1056h0M65,954h0M272,816h0M404,913h0M292,1039h0M489,781h0M33,729h0M367,870h0M155,1031h0M64,1087h0M504,892h0M398,1036h0M432,1023h0M363,910h0M246,826h0M439,800h0M386,740h0M117,827h0M198,1004h0M226,807h0M235,728h0M54,986h0M224,933h0M67,967h0M109,740h0M67,924h0M69,723h0M404,920h0M155,869h0M54,834h0M119,917h0M208,873h0M475,1024h0M165,1023h0M158,1022h0M72,849h0M517,990h0M124,1018h0M165,917h0M201,874h0M493,1003h0M21,992h0M101,929h0M108,1077h0M403,872h0M44,852h0M480,783h0M260,874h0M16,872h0M200,799h0M248,853h0M292,835h0M425,1048h0M226,879h0M219,936h0M234,844h0M428,866h0M195,793h0M73,990h0M153,875h0M94,1012h0M93,1068h0M522,889h0M90,771h0M209,1002h0M310,1062h0M201,874h0M524,758h0M399,914h0M155,835h0M514,990h0M456,743h0M308,813h0M255,909h0M140,868h0M309,1037h0M196,857h0M382,900h0M215,1002h0M455,780h0M232,746h0M272,867h0M422,870h0M217,842h0M68,1015h0M382,1027h0M424,993h0M17,724h0M126,956h0M326,1044h0M440,1080h0M171,928h0M94,961h0M262,1030h0M163,839h0M340,1038h0M455,799h0M335,1004h0M394,838h0M290,721h0M413,1060h0M131,1065h0M181,964h0M293,1055h0M438,997h0M1,889h0M307,938h0M172,1046h0M394,819h0M406,1055h0M387,1009h0M420,880h0M412,992h0M472,751h0M407,871h0M113,1026h0M225,907h0M228,836h0M81,1026h0M195,851h0M13,733h0M216,964h0M230,757h0M190,932h0M40,834h0M241,826h0M419,1018h0M243,723h0M306,928h0M296,895h0M380,1039h0M380,818h0M502,739h0M520,1023h0M423,1037h0M314,1101h0M385,809h0M528,921h0M526,735h0M8,870h0M424,843h0M335,1047h0M503,1007h0M447,1019h0M180,993h0M199,952h0M365,883h0M488,879h0M407,1046h0M141,1051h0M37,832h0M161,1066h0M313,951h0M70,975h0M222,1073h0M394,930h0M214,875h0M275,926h0M46,840h0M300,1045h0M10,840h0M229,911h0M380,859h0M390,1061h0M528,872h0M81,995h0M117,867h0M202,878h0M409,870h0M296,764h0M408,890h0M95,995h0M259,870h0M131,840h0M232,848h0M442,829h0M224,962h0M135,967h0M233,830h0M169,1036h0M403,769h0M244,902h0M302,948h0M483,779h0M339,1036h0M130,921h0M235,893h0M313,1052h0M62,759h0M294,833h0M513,949h0M133,754h0M259,886h0M130,1036h0M61,1072h0M391,801h0M17,855h0M278,864h0M99,891h0M462,981h0M190,987h0M256,970h0M114,774h0M135,896h0M322,952h0M179,954h0M432,1015h0M395,824h0M293,788h0M492,843h0M433,1017h0M244,978h0M135,1056h0M29,823h0M385,882h0M382,813h0M386,895h0M52,809h0M88,865h0M204,890h0M383,1070h0M330,805h0M150,837h0M88,1080h0M229,1098h0M356,900h0M463,745h0M94,882h0M165,1060h0M162,1040h0M289,1025h0M283,1062h0M411,811h0M52,716h0M213,988h0M381,870h0M100,879h0M392,806h0M172,1040h0M233,865h0M417,902h0M490,734h0M534,872h0M51,1015h0M517,741h0M346,911h0M179,1023h0M119,1009h0M88,917h0M179,862h0M200,960h0M403,843h0M33,899h0M21,806h0M213,872h0M304,1011h0M146,834h0M240,852h0M535,931h0M146,859h0M199,795h0M413,991h0M392,912h0M52,875h0M302,935h0M382,1004h0M526,789h0M280,905h0M501,1023h0M246,867h0M403,918h0M255,834h0M300,927h0M386,940h0M316,1013h0M291,936h0M171,1014h0M467,952h0M509,725h0M482,763h0M516,1018h0M263,1090h0M140,1026h0M272,794h0M133,1015h0M174,961h0M82,738h0M470,764h0M7,849h0M305,932h0M396,814h0M527,932h0M193,1005h0M91,1091h0M347,1017h0M313,939h0M366,883h0M262,824h0M154,1042h0M517,900h0M516,947h0M465,1075h0M150,1073h0M211,880h0M388,864h0M12,765h0M517,990h0M120,950h0M511,1019h0M250,884h0M21,743h0M524,901h0M253,988h0M134,939h0M7,897h0M141,1052h0M86,908h0M163,1039h0M463,1009h0M36,720h0M273,1011h0M532,1036h0M247,995h0M115,1028h0M199,888h0M408,1041h0M280,956h0M140,854h0M32,901h0M434,977h0M265,826h0M519,737h0M142,872h0M106,1078h0M122,825h0M137,1055h0M329,901h0M148,1070h0M373,900h0M76,1082h0M447,1063h0M367,873h0M347,793h0M139,745h0M22,752h0M105,810h0M22,889h0M38,732h0M227,870h0M303,956h0M427,1033h0M224,1068h0M205,786h0" stroke="#8e1111" stroke-width="2.7"/>
<path d="M31,1091h0M97,1084h0M0,871h0M477,926h0M536,986h0M504,859h0M524,717h0M290,903h0M310,810h0M195,843h0M444,996h0M116,822h0M2,866h0M302,948h0M369,911h0M406,1059h0M116,878h0M209,958h0M95,768h0M301,719h0M206,961h0M508,895h0M86,906h0M414,1038h0M256,916h0M242,873h0M111,1071h0M258,902h0M178,979h0M404,1075h0M25,892h0M267,878h0M67,979h0M381,897h0M78,978h0M264,868h0M339,1058h0M497,918h0M390,992h0M435,911h0M245,985h0M22,897h0M494,728h0M82,759h0M224,864h0M404,1053h0M215,994h0M427,1034h0M90,721h0M12,715h0M429,865h0M298,1015h0M275,954h0M465,757h0M113,805h0M394,760h0M236,896h0M228,1003h0M15,888h0M4,882h0M79,913h0M332,1022h0M126,862h0M459,1023h0M527,731h0M247,843h0M286,941h0M102,827h0M246,961h0M244,968h0M257,902h0M257,871h0M291,969h0M291,820h0M447,806h0M526,765h0M218,940h0M23,885h0M207,800h0M204,949h0M514,1009h0M462,1018h0M484,1091h0M384,923h0M183,872h0M60,850h0M406,857h0M111,889h0M480,763h0M501,778h0M307,811h0M91,912h0M202,868h0M429,911h0M305,935h0M9,839h0M122,880h0M101,765h0M118,884h0M41,1097h0M514,731h0M227,969h0M343,1020h0M235,962h0M324,911h0M250,1089h0M295,917h0M193,965h0M391,869h0M371,922h0M405,932h0M463,1034h0M526,906h0M414,928h0M204,1003h0M516,749h0M274,869h0M69,843h0M422,859h0M250,1003h0M116,854h0M245,871h0M187,996h0M376,990h0M104,877h0M215,891h0M294,948h0M116,850h0M370,868h0M66,954h0M306,921h0M439,826h0M320,1026h0M399,884h0M314,954h0M432,873h0M12,887h0M104,731h0M49,873h0M96,962h0M103,925h0M416,794h0M224,971h0M518,997h0M430,825h0M125,863h0M450,1045h0M222,842h0M385,860h0M108,1093h0M129,837h0M114,825h0M410,851h0M114,890h0M13,910h0M226,894h0M439,900h0M161,1008h0M137,863h0M350,728h0M502,881h0M471,767h0M238,853h0M204,946h0M368,876h0M200,934h0M219,985h0M274,748h0M290,728h0M371,877h0M149,940h0M164,1016h0M202,745h0M382,892h0M414,794h0M284,1061h0M109,979h0M225,897h0M66,937h0M432,825h0M154,813h0M234,1002h0M507,749h0M146,1045h0M125,1030h0M119,1055h0M317,764h0M522,850h0M207,907h0M213,790h0M426,893h0M174,1058h0M186,961h0M190,965h0M80,861h0M244,854h0M213,839h0M500,772h0M19,1075h0M78,1041h0M335,1046h0M150,832h0M408,907h0M487,733h0M497,929h0M228,837h0M436,1017h0M168,1033h0M198,966h0M3,825h0M480,750h0M226,908h0M515,772h0M184,1025h0M119,840h0M239,881h0M308,1018h0M268,844h0M404,873h0M24,867h0M154,831h0M57,761h0M85,1092h0M382,850h0M477,728h0M385,808h0M456,1042h0M462,1048h0M381,894h0M480,726h0M237,929h0M32,743h0M228,927h0M78,1093h0M312,906h0M216,916h0M186,784h0M14,859h0M210,879h0M146,1011h0M430,754h0M534,1015h0M85,921h0M135,845h0M415,868h0M10,935h0M100,827h0M142,1017h0M13,736h0M231,869h0M188,962h0M41,752h0M355,892h0M324,1068h0M131,841h0M273,1077h0M248,828h0M116,868h0M298,930h0M440,903h0M106,850h0M149,1057h0M437,812h0M209,844h0M526,902h0M404,822h0M118,1060h0M235,880h0M397,867h0M153,1081h0M136,859h0M536,744h0M311,894h0M157,1065h0M455,981h0M405,1002h0M297,926h0M111,1046h0M168,1057h0M64,902h0M497,719h0M287,824h0M260,949h0M399,843h0M241,831h0M187,954h0M493,756h0M488,889h0M274,865h0M79,928h0M25,749h0M417,806h0M449,987h0M255,856h0M467,758h0M247,889h0M198,963h0M227,852h0M57,750h0M257,1073h0M439,1001h0M103,936h0M488,958h0M94,822h0M260,836h0M312,1098h0M106,873h0M367,1094h0M107,1086h0M430,886h0M114,1065h0M240,863h0M151,1005h0M249,977h0M206,974h0M370,807h0M427,1009h0M401,1057h0M116,765h0M301,912h0M383,902h0M218,991h0M197,873h0M515,759h0M299,832h0M416,841h0M58,933h0M189,868h0M272,850h0M121,1028h0M400,858h0M244,878h0M243,854h0M379,912h0M225,833h0M413,824h0M191,967h0M397,791h0M531,722h0M181,1028h0M407,804h0M41,874h0M427,877h0M505,914h0M420,883h0M156,952h0M350,1066h0M298,1025h0M502,887h0M193,873h0M435,891h0M264,817h0M134,1036h0M487,903h0M222,906h0M508,1004h0M404,1020h0M259,827h0M441,1054h0M201,1004h0M218,864h0M337,1014h0M228,929h0M44,955h0M399,894h0M162,857h0M478,919h0M378,1030h0M271,844h0M447,1035h0M341,1068h0M74,720h0M141,1045h0M424,828h0M104,911h0M175,808h0M356,734h0M202,983h0M286,1011h0M258,1096h0M15,882h0M132,763h0M361,902h0M382,883h0M228,867h0M184,940h0M311,898h0M78,957h0M171,929h0M191,849h0M342,906h0M210,805h0M504,771h0M290,914h0M166,844h0M235,983h0M411,899h0M108,942h0M387,865h0M84,732h0M423,920h0M15,849h0M301,816h0M376,968h0M403,1041h0M177,1038h0M121,927h0M401,855h0M229,963h0M317,895h0M291,1017h0M279,822h0M474,746h0M95,855h0M387,906h0M240,832h0M523,727h0M293,1013h0M70,932h0M376,877h0M353,1014h0M375,874h0M143,1087h0M93,828h0M300,1052h0M85,980h0M40,724h0M144,797h0M440,979h0M419,901h0M288,900h0M9,898h0M318,915h0M244,884h0M254,957h0M269,875h0M151,971h0M457,1036h0M427,1020h0M501,885h0M449,1057h0M233,949h0M122,948h0M290,913h0M196,771h0M173,1023h0M426,903h0M531,775h0M375,891h0M417,1041h0M498,1017h0M286,1056h0M215,967h0M383,916h0M251,791h0M209,1039h0M142,800h0M377,862h0M256,888h0M30,862h0M461,1016h0M140,870h0M124,829h0M78,1069h0M461,1000h0M246,930h0M465,756h0M311,923h0M16,858h0M382,825h0M117,823h0M382,799h0M167,1005h0M398,869h0M181,832h0M397,881h0M131,1036h0M126,870h0M10,753h0M501,749h0M124,821h0M289,947h0M156,817h0M183,941h0M201,962h0M133,815h0M494,728h0M101,942h0M267,833h0M412,924h0M405,899h0M316,1087h0M372,910h0M91,748h0M253,944h0M482,747h0M315,762h0M494,742h0M269,830h0M418,779h0M477,716h0M137,870h0M310,1087h0M521,784h0M320,1080h0M316,1097h0M211,807h0M383,910h0M10,846h0M239,829h0M376,808h0M424,1054h0M309,928h0M328,926h0M524,726h0M215,993h0M197,855h0M455,1029h0M432,1025h0M243,801h0M217,889h0M370,869h0M35,856h0M155,842h0M138,1055h0M102,976h0M190,955h0M58,951h0M200,938h0M236,844h0M376,1045h0M187,992h0M468,1041h0M499,754h0M195,882h0M419,824h0M186,952h0M252,964h0M234,974h0M487,731h0M138,855h0M212,738h0M296,929h0M108,1073h0M193,756h0M484,753h0M263,844h0M372,905h0M396,1024h0M236,908h0M517,779h0M473,721h0M126,879h0M195,983h0M447,1040h0M455,1006h0M246,848h0M249,888h0M509,924h0M42,755h0M293,805h0M335,907h0M246,853h0M231,842h0M214,1003h0M219,968h0M493,735h0M431,1030h0M124,1023h0M109,842h0M484,789h0M210,973h0M52,957h0M184,993h0M151,748h0M111,1040h0M134,866h0M110,971h0M203,860h0M126,949h0M273,973h0M10,880h0M203,726h0M289,789h0M305,935h0M24,723h0M191,967h0M181,932h0M130,858h0M118,1022h0M229,842h0M392,911h0M392,1010h0M448,1076h0M385,921h0M531,993h0M193,725h0M116,879h0M141,1014h0M201,952h0M178,1042h0M214,823h0M50,737h0M270,852h0M114,866h0M38,969h0M292,832h0M424,826h0M238,986h0M218,863h0M249,975h0M218,1086h0M12,1098h0M244,1094h0M497,727h0M143,855h0M13,848h0M144,1033h0M18,758h0M30,1063h0M137,1057h0M490,891h0M431,911h0M316,1041h0M182,1060h0M154,795h0M339,943h0M104,846h0M351,1088h0M414,1023h0M445,1009h0M130,1043h0M429,1021h0M120,943h0M235,851h0M434,993h0M204,942h0M223,862h0M152,809h0M229,996h0M295,1034h0M425,773h0M394,913h0M169,1030h0M523,1073h0M275,872h0M491,915h0M261,849h0M404,786h0M132,1029h0M150,1066h0M464,765h0M392,1015h0M209,885h0M168,856h0M436,745h0M231,939h0M524,779h0M391,1055h0M217,940h0M366,859h0M70,978h0M133,1025h0M302,919h0M209,970h0M279,811h0M372,776h0M237,852h0M22,825h0M71,1084h0M157,864h0M241,945h0M134,1081h0M243,969h0M215,849h0M220,848h0M177,951h0M204,968h0M226,866h0M359,879h0M427,877h0M427,1011h0M184,933h0M434,910h0M449,840h0M500,748h0M436,991h0M399,812h0M535,927h0M219,757h0M400,796h0M459,1018h0M327,936h0M384,1031h0M0,857h0M146,835h0M297,931h0M248,992h0M35,860h0M307,936h0M408,1027h0M333,1030h0M434,901h0M326,1067h0M315,917h0M502,867h0M417,858h0M172,975h0M183,853h0M284,864h0M295,905h0M110,965h0M6,866h0M68,970h0M167,861h0M316,934h0M186,955h0M249,892h0M243,776h0M423,908h0M23,772h0M97,810h0M212,888h0M238,962h0M184,735h0M420,803h0M130,1085h0M210,852h0M388,1059h0M121,1064h0M252,951h0M525,777h0M411,1059h0M67,983h0M153,1063h0M239,841h0M420,738h0M207,891h0M126,1062h0M257,897h0M315,764h0M287,946h0M270,806h0M387,793h0M210,949h0M509,895h0M141,1007h0M503,752h0M230,992h0M8,864h0M197,893h0M477,748h0M364,875h0M378,907h0M255,901h0M227,945h0M403,994h0M153,955h0M318,945h0M511,1020h0M326,1066h0M442,895h0M308,806h0M462,1014h0M341,923h0M126,1058h0M11,851h0M263,894h0M179,952h0M248,945h0M195,813h0M395,848h0M331,929h0M145,1057h0M294,910h0M184,977h0M246,891h0M261,957h0M294,1039h0M459,745h0M26,867h0M445,983h0M52,1091h0M436,900h0M190,954h0M74,1043h0M95,841h0M391,1003h0M365,1024h0M377,911h0M117,965h0M432,906h0M209,846h0M284,920h0M294,1045h0M92,960h0M324,945h0M213,894h0M128,995h0M402,818h0M453,987h0M185,793h0M416,902h0M227,852h0M225,969h0M71,949h0M78,931h0M207,910h0M247,986h0M396,789h0M92,852h0M324,891h0M167,1050h0M267,860h0M289,947h0M360,921h0M438,1006h0M210,831h0M123,1086h0M261,892h0M411,873h0M493,888h0M6,739h0M168,1054h0M241,851h0M131,1089h0M99,989h0M234,968h0M269,808h0M132,861h0M97,818h0M206,871h0M236,899h0M429,881h0M209,889h0M495,1088h0M455,1037h0M338,1071h0M78,943h0M205,958h0M406,766h0M134,862h0M241,825h0M492,766h0M108,1059h0M306,952h0M201,861h0M117,890h0M25,742h0M98,951h0M3,853h0M510,884h0M115,836h0M153,849h0M43,775h0M452,1073h0M137,1004h0M350,903h0M274,768h0M388,1006h0M405,1020h0M334,1072h0M246,969h0M265,877h0M150,1037h0M185,877h0M233,980h0M400,818h0M262,950h0M401,880h0M112,1100h0M478,836h0M497,920h0M324,1063h0M245,843h0M282,1030h0M414,1012h0M27,762h0M66,1091h0M471,783h0M408,918h0M94,830h0M136,842h0M251,846h0M176,944h0M194,850h0M406,1043h0M137,835h0M331,733h0M132,958h0M243,731h0M171,865h0M308,972h0M487,759h0M157,859h0M50,856h0M180,903h0M318,1029h0M228,891h0M395,1015h0M446,1013h0M320,1036h0M54,741h0M72,937h0M249,948h0M206,846h0M209,979h0M125,816h0M455,1004h0M89,951h0M215,830h0M411,918h0M522,772h0M478,916h0M200,833h0M288,910h0M291,862h0M387,812h0M423,1030h0M36,870h0M132,1053h0M452,996h0M405,800h0M416,858h0M52,774h0M20,740h0M208,830h0M406,1002h0M460,1003h0M244,975h0M178,958h0M207,851h0M207,762h0M108,807h0M106,817h0M6,721h0M110,841h0M318,1075h0M535,1000h0M102,753h0M184,966h0M503,740h0M85,848h0M122,839h0M261,967h0M135,832h0M96,941h0M137,1044h0M518,890h0M115,811h0M309,936h0M191,950h0M159,1057h0M208,926h0M302,1078h0M216,956h0M218,864h0M333,937h0M168,863h0M46,851h0M255,956h0M387,1011h0M214,871h0M222,953h0M254,846h0M154,1012h0M145,1079h0M514,1032h0M305,954h0M382,1005h0M215,832h0M191,1016h0M215,934h0M388,869h0M382,915h0M318,925h0M111,896h0M145,1016h0M106,822h0M134,1093h0M101,986h0M320,1075h0M28,899h0M416,906h0M327,1057h0M113,763h0M164,1023h0M475,767h0M186,803h0M236,989h0M444,1027h0M36,963h0M417,1037h0M148,1022h0M495,916h0M525,773h0M391,914h0M369,873h0M401,862h0M442,1000h0M373,890h0M354,1054h0M372,889h0M316,919h0M96,951h0M484,720h0M514,888h0M305,910h0M235,952h0M226,971h0M202,930h0M219,986h0M211,995h0M198,968h0M34,852h0M416,873h0M88,963h0M248,903h0M345,1034h0M507,995h0M338,1087h0M352,767h0M482,894h0M162,834h0M312,933h0M487,763h0M22,873h0M400,888h0M58,969h0M30,842h0M281,741h0M515,790h0M74,1085h0M192,978h0M443,1021h0M211,948h0M286,932h0M202,995h0M5,879h0M409,931h0M90,849h0M216,962h0M217,938h0M121,1020h0M278,762h0M261,883h0M207,1003h0M365,1033h0M109,843h0M258,836h0M10,854h0M331,949h0M113,1053h0M143,859h0M410,1068h0M324,814h0M8,894h0M149,1055h0M227,989h0M387,903h0M63,961h0M391,924h0M406,1045h0M314,924h0M237,900h0M17,737h0M243,838h0M29,1056h0M409,810h0M286,932h0M397,900h0M334,931h0M300,868h0M235,982h0M242,832h0M536,762h0M445,1003h0M313,1044h0M212,882h0M12,895h0M44,763h0M421,803h0M142,1025h0M155,1016h0M229,852h0M512,886h0M504,906h0M124,751h0M270,958h0M452,801h0M411,919h0M221,963h0M280,937h0M26,852h0M401,998h0M7,730h0M461,908h0M212,939h0M244,840h0M375,1032h0M118,1026h0M529,758h0M266,878h0M135,824h0M228,878h0M327,939h0M105,878h0M344,926h0M154,848h0M65,966h0M293,910h0M490,777h0M141,840h0M135,857h0M223,936h0M362,893h0M292,896h0M143,734h0M218,954h0M425,816h0M490,995h0M401,832h0M501,785h0M518,745h0M164,1047h0M227,972h0M188,986h0M201,960h0M96,864h0M230,837h0M236,976h0M233,893h0M248,844h0M280,813h0M230,1076h0M83,848h0M428,1100h0M160,1011h0M296,929h0M16,722h0M247,963h0M220,940h0M198,853h0M220,826h0M139,817h0M213,920h0M123,730h0M381,804h0M369,862h0M137,805h0M409,783h0M125,955h0M236,857h0M137,1042h0M420,911h0M62,954h0M242,893h0M208,979h0M461,742h0M81,964h0M85,1001h0M202,964h0M369,1011h0M297,928h0M234,876h0M84,1060h0M41,908h0M317,1021h0M382,798h0M65,768h0M362,1032h0M296,912h0M221,954h0M203,883h0M302,906h0M290,926h0M168,1030h0M159,1013h0M487,756h0M301,897h0M334,922h0M4,852h0M42,851h0M83,868h0M314,896h0M222,997h0M239,840h0M472,833h0M171,717h0M221,856h0M422,892h0M399,909h0M386,1035h0M140,870h0M337,933h0M145,875h0M404,838h0M391,993h0M199,872h0M414,898h0M361,1019h0M85,964h0M477,890h0M188,879h0M23,834h0M321,945h0M465,747h0M207,761h0M427,818h0M474,753h0M46,872h0M511,875h0M137,1012h0M105,1074h0M269,862h0M424,907h0M332,901h0M224,915h0M204,855h0M411,793h0M212,867h0M468,769h0M215,859h0M224,824h0M506,1015h0M260,860h0M248,981h0M155,859h0M241,763h0M252,972h0M150,1005h0M133,827h0M343,729h0M522,947h0M215,825h0M439,914h0M475,909h0M182,924h0M455,759h0M483,908h0M186,974h0M213,885h0M236,954h0M491,775h0M372,867h0M509,1029h0M282,923h0M90,949h0M404,1002h0M212,891h0M75,1082h0M426,1005h0M115,1030h0M230,957h0M405,790h0M390,899h0M216,962h0M106,806h0M438,1056h0M308,1051h0M269,1000h0M240,886h0M469,817h0M417,916h0M257,899h0M224,928h0M261,862h0M506,737h0M493,790h0M471,1013h0M213,989h0M231,965h0M339,937h0M72,840h0M63,870h0M422,917h0M141,945h0M524,1066h0M397,909h0M189,848h0M33,751h0M207,1041h0M461,1043h0M123,952h0M293,919h0M309,1015h0M238,845h0M361,901h0M1,885h0M4,849h0M460,1035h0M190,975h0M45,884h0M136,849h0M215,936h0M76,916h0M495,777h0M463,773h0M462,739h0M78,844h0M303,820h0M214,972h0M245,1082h0M536,740h0M204,985h0M31,730h0M406,920h0M388,892h0M253,840h0M367,1079h0M512,1014h0M434,860h0M107,959h0M213,931h0M140,868h0M251,948h0M2,890h0M242,948h0M223,962h0M110,919h0M14,843h0M409,892h0M397,908h0M236,837h0M328,1048h0M254,1084h0M159,867h0M11,976h0M522,1097h0M121,814h0M145,1090h0M236,1092h0M195,1087h0M333,1047h0M176,902h0M113,870h0M101,926h0M124,1015h0M159,1062h0M87,847h0M389,1002h0M430,1054h0M402,925h0M233,1100h0M4,852h0M236,1062h0M404,914h0M188,848h0M408,902h0M493,909h0M501,880h0M454,990h0M255,862h0M337,1090h0M287,1062h0M277,1101h0M172,744h0M304,928h0M210,842h0M37,879h0M189,964h0M111,909h0M222,987h0M219,882h0M412,1017h0M509,886h0M40,889h0M4,835h0M245,898h0M246,1097h0M425,1043h0M371,805h0M408,1011h0M115,868h0M204,842h0M408,788h0M225,961h0M491,908h0M435,900h0M164,1020h0M299,945h0M242,962h0M467,1040h0M160,1043h0M367,903h0M85,864h0M289,972h0M289,798h0M482,781h0M78,940h0M106,859h0M301,1040h0M100,826h0M299,797h0M236,860h0M8,826h0M127,874h0M208,896h0M411,928h0M255,880h0M536,984h0M200,896h0M185,934h0M192,795h0M477,776h0M168,954h0M439,875h0M257,884h0M283,1028h0M314,956h0M184,797h0M66,966h0M334,925h0M371,912h0M310,910h0M265,790h0M59,983h0M435,883h0M487,934h0M213,1062h0M410,1029h0M299,866h0M47,857h0M172,856h0M192,992h0M217,943h0M475,748h0M133,1035h0M526,1030h0M228,934h0M461,771h0M257,859h0M478,731h0M255,763h0M229,887h0M108,858h0M425,869h0M179,1052h0M359,881h0M379,889h0M215,952h0M250,853h0M392,869h0M107,975h0M378,813h0M366,1078h0M378,805h0M400,828h0M439,1006h0M193,980h0M278,938h0M373,1094h0M273,821h0M96,890h0M41,943h0M327,945h0M472,886h0M232,976h0M449,1005h0M520,935h0M399,860h0M328,942h0M18,888h0M214,785h0M372,867h0M11,765h0M100,781h0M6,830h0M105,878h0M461,1041h0M35,745h0M166,1048h0M407,788h0M291,939h0M214,946h0M71,1079h0M97,875h0M2,838h0M345,1058h0M387,822h0M265,1091h0M533,773h0M131,853h0M246,783h0M420,1055h0M466,752h0M231,984h0M3,839h0M314,1097h0M417,887h0M208,843h0M88,955h0M16,889h0M303,1035h0M412,932h0M7,891h0M413,881h0M319,912h0M110,868h0M61,964h0M413,891h0M317,742h0M297,1016h0M215,872h0M493,722h0M369,748h0M103,939h0M487,1056h0M183,876h0M61,960h0M385,918h0M201,964h0M36,902h0M147,1062h0M176,1045h0M60,944h0M232,992h0M224,755h0M289,946h0M179,1009h0M266,807h0M247,974h0M196,792h0M148,1015h0M190,852h0M203,967h0M313,898h0M419,800h0M215,1092h0M385,878h0M414,1043h0M429,922h0M36,750h0M520,766h0M231,860h0M465,997h0M505,751h0M420,1039h0M368,894h0M229,882h0M70,942h0M279,819h0M103,949h0M419,890h0M420,836h0M388,760h0M201,953h0M131,818h0M159,1016h0M130,1052h0M84,920h0M277,869h0M405,867h0M502,894h0M2,899h0M305,941h0M519,1006h0M190,1029h0M66,732h0M248,972h0M415,815h0M528,1002h0M30,864h0M328,928h0M442,820h0M456,1022h0M404,794h0M501,764h0M514,744h0M497,894h0M248,834h0M32,812h0M354,897h0M466,1029h0M535,925h0M315,1049h0M0,880h0M494,739h0M32,842h0M415,858h0M330,893h0M505,774h0M111,883h0M348,734h0M439,910h0M528,1005h0M505,1004h0M91,825h0M407,815h0M468,1008h0M432,793h0M248,852h0M4,855h0M389,993h0M460,1031h0M294,948h0M520,989h0M156,1024h0M245,854h0M286,1028h0M490,888h0M298,1017h0M469,928h0M63,970h0M119,1035h0M224,871h0M370,841h0M2,823h0M107,968h0M90,910h0M22,893h0M423,1029h0M415,902h0M132,723h0M416,791h0M150,748h0M427,918h0M78,855h0M405,905h0M178,748h0M327,949h0M181,969h0M325,905h0M474,746h0M98,971h0M459,949h0M353,806h0M232,887h0M200,956h0M270,862h0M3,957h0M1,995h0M152,844h0M199,904h0M417,911h0M410,897h0M121,986h0M377,911h0M244,900h0M165,1017h0M149,1050h0M157,1044h0M432,1057h0M368,912h0M432,1061h0M383,807h0M233,968h0M380,903h0M111,1072h0M337,1015h0M84,1081h0M103,805h0M288,914h0M346,1070h0M193,978h0M510,919h0M39,819h0M280,936h0M448,804h0M512,784h0M362,1094h0M133,859h0M494,891h0M223,847h0M198,972h0M421,1038h0M153,857h0M268,855h0M399,1045h0M406,904h0M393,1033h0M5,786h0M188,1031h0M408,904h0M121,937h0M368,883h0M250,964h0M283,759h0M235,840h0M200,889h0M337,1092h0M132,1007h0M362,907h0M23,862h0M413,718h0M229,722h0M291,905h0M209,963h0M113,1015h0M327,1067h0M215,975h0M474,726h0M81,925h0M257,1096h0M281,930h0M97,890h0M239,903h0M182,1033h0M181,883h0M235,950h0M373,864h0M227,967h0M430,823h0M189,752h0M125,1050h0M527,873h0M242,856h0M77,1094h0M4,840h0M299,1039h0M230,966h0M412,828h0M78,984h0M139,859h0M131,1011h0M81,992h0M316,916h0M409,864h0M407,810h0M245,962h0M477,718h0M186,996h0M530,735h0M26,962h0M77,968h0M39,886h0M280,827h0M424,1027h0M74,924h0M448,1016h0M487,857h0M213,822h0M138,868h0M201,845h0M495,738h0M222,969h0M180,808h0M217,816h0M252,896h0M408,904h0M396,888h0M302,1038h0M257,959h0M226,842h0M80,861h0M206,845h0M224,833h0M430,1015h0M211,963h0M135,750h0M450,1002h0M330,789h0M260,867h0M442,1097h0M446,989h0M85,847h0M131,752h0M164,1046h0M113,886h0M489,870h0M276,824h0M384,900h0M23,980h0M386,901h0M141,803h0M351,727h0M192,930h0M308,1003h0M228,1049h0M181,887h0M438,1045h0M24,969h0M246,909h0M245,887h0M132,892h0M400,933h0M400,929h0M403,901h0M251,884h0M200,858h0M350,1018h0M105,845h0M161,1020h0M152,1031h0M32,733h0M166,965h0M472,739h0M402,917h0M230,972h0M502,877h0M132,1029h0M425,921h0M371,918h0M265,957h0M413,876h0M230,1002h0M124,1082h0M228,962h0M439,1006h0M257,1096h0M303,950h0M345,1090h0M246,956h0M280,1077h0M522,715h0M502,720h0M531,735h0M90,855h0M251,849h0M128,854h0M206,1003h0M109,877h0M318,900h0M263,848h0M105,1077h0M20,876h0M108,832h0M425,1016h0M477,771h0M209,941h0M443,1047h0M532,731h0M112,830h0M394,857h0M301,829h0M326,947h0M508,864h0M12,888h0M197,952h0M291,1026h0M507,1027h0M204,718h0M142,1061h0M66,1075h0M208,843h0M327,904h0M199,940h0M489,882h0M331,928h0M28,882h0M498,768h0M150,726h0M325,952h0M129,862h0M217,999h0M183,781h0M218,895h0M343,718h0M492,768h0M316,1020h0M268,809h0M352,745h0M84,737h0M370,856h0M124,812h0M358,883h0M199,835h0M221,992h0M269,806h0M413,871h0M298,916h0M5,874h0M487,930h0M384,1036h0M506,1005h0M159,1057h0M322,931h0M36,718h0M289,920h0M300,896h0M454,922h0M310,891h0M396,894h0M140,1050h0M112,970h0M422,993h0M408,933h0M313,929h0M423,1019h0M402,925h0M316,910h0M96,976h0M463,1001h0M123,1067h0M241,849h0M75,1073h0M48,911h0M272,1095h0M259,797h0M107,875h0M249,893h0M209,792h0M144,731h0M390,1017h0M167,1030h0M400,987h0M109,961h0M83,864h0M272,848h0M32,836h0M123,953h0M474,914h0M350,1031h0M244,956h0M243,961h0M208,929h0M129,1047h0M111,1021h0M213,855h0M473,768h0M284,931h0M282,827h0M271,1094h0M124,1054h0M185,1011h0M452,1030h0M336,909h0M501,886h0M507,733h0M283,788h0M170,1020h0M207,955h0M368,900h0M182,799h0M519,775h0M396,1026h0M537,958h0M190,954h0M98,929h0M153,837h0M23,1081h0M169,963h0M126,1048h0M239,959h0M411,832h0M388,912h0M147,971h0M531,939h0M535,808h0M508,720h0M23,899h0M330,922h0M70,931h0M299,983h0M86,773h0M82,853h0M241,727h0M216,960h0M130,1020h0M419,1053h0M446,1004h0M523,981h0M131,866h0M388,739h0M262,1017h0M455,996h0M210,950h0M215,826h0M197,979h0M192,964h0M26,756h0M410,781h0M209,849h0M318,1039h0M216,883h0M522,932h0M103,887h0M337,929h0M533,919h0M160,860h0M505,874h0M150,1027h0M459,1097h0M438,864h0M429,790h0M307,766h0M49,842h0M40,784h0M434,877h0M122,837h0M210,858h0M410,997h0M409,1025h0M202,972h0M364,995h0M493,747h0M150,862h0M118,959h0M373,885h0M70,1099h0M226,897h0M405,936h0M534,905h0M193,904h0M107,998h0M426,877h0M244,952h0M482,922h0M114,836h0M268,841h0M458,1009h0M488,752h0M437,1002h0M318,928h0M93,903h0M72,1033h0M248,852h0M414,845h0M363,887h0M162,1002h0M293,939h0M239,892h0M403,812h0M224,895h0M16,745h0M327,915h0M361,862h0M263,742h0M440,1023h0M465,1021h0M222,824h0M129,1050h0M230,828h0M345,1097h0M419,814h0M219,858h0M296,801h0M202,991h0M304,1043h0M428,1058h0M395,891h0M344,1054h0M275,1092h0M253,959h0M516,789h0M221,984h0M265,808h0M407,987h0M223,847h0M103,862h0M425,1027h0M109,874h0M382,897h0M211,801h0M430,1046h0M419,1020h0M116,833h0M243,855h0M441,757h0M252,973h0M489,923h0M143,1028h0M102,865h0M124,804h0M414,860h0M425,1065h0M407,913h0M17,766h0M166,1043h0M61,953h0M394,910h0M426,1034h0M391,999h0M499,1054h0M411,1000h0M259,890h0M143,1004h0M53,742h0M206,1019h0M473,1000h0M265,958h0M1,895h0M488,879h0M158,1042h0M452,771h0M275,1093h0M327,1044h0M132,1091h0M267,793h0M486,758h0M437,805h0M122,836h0M418,836h0M105,950h0M388,863h0M269,896h0M349,811h0M178,931h0M110,992h0M287,721h0M31,837h0M93,912h0M364,880h0M35,845h0M218,866h0M189,972h0M211,971h0M352,1036h0M277,776h0M316,1027h0M167,827h0M122,839h0M254,963h0M507,902h0M412,857h0M219,832h0M255,892h0M248,978h0M520,781h0M237,835h0M102,815h0M277,1015h0M440,1019h0M160,869h0M496,764h0M188,963h0M143,1043h0M160,856h0M28,869h0M252,838h0M87,719h0M95,874h0M127,813h0M149,1047h0M364,928h0M209,795h0M374,887h0M291,913h0M477,1011h0M214,827h0M70,834h0M267,812h0M293,765h0M65,932h0M115,930h0M26,740h0M222,941h0M127,1079h0M250,867h0M129,875h0M266,818h0M411,1035h0M85,984h0M277,930h0M44,725h0M523,933h0M25,1039h0M23,964h0M375,1028h0M399,886h0M289,923h0M317,1083h0M428,863h0M391,836h0M133,1090h0M256,1086h0M223,843h0M312,780h0M170,787h0M442,1060h0M170,967h0M288,924h0M368,887h0M311,1022h0M381,807h0M213,828h0M131,945h0M121,1013h0M439,881h0M296,1019h0M431,853h0M312,912h0M402,1045h0M215,837h0M497,730h0M414,812h0M165,780h0M425,882h0M320,920h0M11,757h0M158,1039h0M171,1037h0M422,835h0M107,1063h0M105,890h0M135,790h0M258,837h0M136,1032h0M221,963h0M291,971h0M504,1032h0M214,1073h0M111,874h0M316,1035h0M298,935h0M122,976h0M143,1044h0M312,737h0M222,1002h0M97,1077h0M232,867h0M123,851h0M197,970h0M294,903h0M270,853h0M366,752h0M468,729h0M515,888h0M118,961h0M141,857h0M364,896h0M422,810h0M145,813h0M201,1001h0M174,958h0M274,999h0M222,841h0M250,832h0M73,1077h0M149,861h0M18,747h0M64,967h0M220,971h0M272,796h0M68,1036h0M254,832h0M269,801h0M7,840h0M322,1087h0M295,912h0M241,884h0M10,862h0M31,974h0M395,1016h0M289,830h0M304,919h0M224,730h0M127,805h0M368,812h0M253,830h0M418,800h0M311,920h0M479,764h0M296,1011h0M153,1063h0M430,830h0M303,938h0M455,987h0M43,852h0M308,920h0M437,898h0M211,900h0M318,987h0M172,977h0M297,885h0M259,859h0M204,944h0M245,949h0M161,981h0M527,1040h0M178,801h0M193,983h0M99,933h0M520,935h0M92,974h0M432,763h0M144,1057h0M386,1021h0M38,754h0M239,831h0M413,727h0M153,855h0M150,1073h0M1,842h0M145,1048h0M223,855h0M230,947h0M204,892h0M276,797h0M213,992h0M232,843h0M504,755h0M215,1090h0M260,961h0M161,1026h0M119,810h0M389,856h0M435,897h0M244,852h0M118,969h0M447,756h0M428,804h0M50,732h0M411,879h0M11,759h0M291,1010h0M244,885h0M451,943h0M241,902h0M411,1091h0M222,921h0M322,915h0M388,740h0M121,810h0M116,1005h0M212,892h0M396,1050h0M237,866h0M273,1088h0M248,859h0M396,893h0M501,864h0M92,850h0M114,1077h0M407,805h0M368,894h0M237,940h0M230,814h0M138,969h0M160,829h0M404,1070h0M499,770h0M299,951h0M478,741h0M518,893h0M24,857h0M234,874h0M219,875h0M376,901h0M326,899h0M414,905h0M141,814h0M400,1026h0M160,864h0M129,946h0M422,883h0M487,775h0M405,1005h0M475,1000h0M136,1007h0M219,945h0M400,852h0M36,856h0M395,794h0M110,1077h0M124,964h0M136,853h0M171,758h0M311,891h0M308,920h0M416,998h0M127,1068h0M534,912h0M247,956h0M15,871h0M414,802h0M123,947h0M3,911h0M55,977h0M436,989h0M457,837h0M399,930h0M197,841h0M94,973h0M3,755h0M235,996h0M430,1002h0" stroke="#c81818" stroke-width="2.8"/>
<path d="M258,837h0M278,919h0M386,997h0M237,966h0M329,943h0M304,952h0M267,875h0M199,999h0M174,1022h0M187,864h0M224,879h0M99,881h0M201,857h0M328,951h0M453,940h0M34,831h0M62,922h0M308,908h0M135,853h0M407,996h0M211,837h0M301,790h0M326,909h0M408,937h0M392,850h0M465,1037h0M503,894h0M301,929h0M514,730h0M245,958h0M178,763h0M228,987h0M102,837h0M285,929h0M314,894h0M208,895h0M309,898h0M168,999h0M424,917h0M504,723h0M297,923h0M209,1003h0M247,911h0M215,862h0M206,949h0M475,762h0M238,962h0M311,934h0M214,947h0M115,1079h0M141,1022h0M530,885h0M248,889h0M98,855h0M229,992h0M230,826h0M114,854h0M392,912h0M362,769h0M230,775h0M193,933h0M484,731h0M197,939h0M323,935h0M190,862h0M145,869h0M234,950h0M119,952h0M455,1017h0M108,881h0M243,863h0M417,910h0M201,936h0M239,840h0M357,901h0M161,1041h0M243,983h0M237,876h0M238,924h0M74,981h0M299,905h0M136,1054h0M392,849h0M135,1024h0M218,921h0M160,1048h0M248,967h0M86,932h0M243,880h0M304,1037h0M459,1024h0M237,852h0M304,937h0M264,872h0M497,877h0M156,847h0M376,861h0M379,882h0M40,877h0M371,904h0M230,850h0M299,951h0M267,869h0M127,1039h0M239,852h0M395,789h0M286,902h0M493,729h0M213,843h0M303,894h0M335,1072h0M294,931h0M120,888h0M224,996h0M164,1037h0M69,947h0M23,872h0M19,745h0M256,962h0M200,941h0M421,1021h0M390,910h0M197,934h0M33,735h0M240,942h0M412,788h0M131,1035h0M94,976h0M209,977h0M201,843h0M249,945h0M212,956h0M154,930h0M122,834h0M131,1027h0M233,828h0M146,1029h0M312,1034h0M301,821h0M169,1061h0M219,940h0M254,841h0M227,882h0M250,876h0M117,974h0M496,761h0M418,1001h0M239,942h0M302,934h0M209,926h0M367,886h0M254,974h0M332,904h0M203,944h0M356,721h0M515,936h0M208,952h0M367,892h0M223,939h0M138,1037h0M433,806h0M433,828h0M89,991h0M100,845h0M371,869h0M303,909h0M220,975h0M149,820h0M487,743h0M240,886h0M356,866h0M245,849h0M420,819h0M306,926h0M478,755h0M236,859h0M255,887h0M436,1004h0M532,774h0M259,837h0M503,732h0M121,1029h0M422,984h0M123,1040h0M152,758h0M73,959h0M304,923h0M331,930h0M209,948h0M322,914h0M233,856h0M419,1047h0M185,985h0M147,1065h0M187,986h0M378,903h0M440,789h0M226,877h0M321,1023h0M244,865h0M230,995h0M292,940h0M143,1029h0M385,891h0M432,869h0M298,919h0M421,1034h0M393,805h0M434,744h0M281,903h0M225,840h0M317,1044h0M507,750h0M209,841h0M295,945h0M37,786h0M454,1047h0M201,876h0M132,1038h0M219,858h0M212,894h0M397,1033h0M324,1041h0M375,871h0M400,873h0M217,929h0M142,1068h0M461,1027h0M177,1019h0M460,759h0M386,924h0M190,974h0M518,943h0M90,966h0M337,942h0M231,965h0M244,993h0M480,743h0M243,942h0M257,876h0M246,976h0M228,866h0M28,877h0M141,1049h0M316,920h0M124,1048h0M156,863h0M262,852h0M418,820h0M205,961h0M229,957h0M50,877h0M382,907h0M158,1049h0M326,951h0M90,1098h0M206,852h0M199,970h0M306,1082h0M300,915h0M148,833h0M113,883h0M227,929h0M66,940h0M88,869h0M123,965h0M241,845h0M195,943h0M225,955h0M326,939h0M428,801h0M379,863h0M326,1036h0M335,916h0M303,905h0M337,905h0M223,897h0M113,1039h0M205,861h0M205,830h0M17,846h0M205,869h0M445,1043h0M384,804h0M245,942h0M138,840h0M204,931h0M488,746h0M26,852h0M108,984h0M143,1039h0M159,1056h0M207,867h0M484,736h0M328,940h0M414,771h0M75,820h0M207,987h0M210,940h0M519,727h0M400,892h0M449,837h0M337,908h0M256,871h0M464,1008h0M203,947h0M216,942h0M399,839h0M418,1035h0M338,916h0M207,971h0M208,987h0M314,756h0M225,989h0M174,1030h0M221,853h0M224,904h0M390,1006h0M217,1002h0M430,1031h0M213,850h0M526,750h0M265,862h0M23,871h0M152,1025h0M437,800h0M289,822h0M240,905h0M56,760h0M383,868h0M268,860h0M313,923h0M224,878h0M473,777h0M266,884h0M323,896h0M413,865h0M398,805h0M251,971h0M138,816h0M214,947h0M415,1014h0M108,961h0M423,814h0M126,949h0M235,840h0M151,856h0M227,1002h0M94,962h0M204,973h0M325,897h0M280,927h0M105,812h0M25,868h0M214,879h0M251,838h0M181,949h0M200,867h0M238,965h0M252,856h0M336,1038h0M299,940h0M438,1006h0M340,908h0M78,1095h0M458,1013h0M82,912h0M369,898h0M426,830h0M433,913h0M308,947h0M239,842h0M104,894h0M296,919h0M252,895h0M218,877h0M214,943h0M240,833h0M310,916h0M225,846h0M208,878h0M144,1030h0M426,908h0M182,985h0M219,938h0M326,920h0M225,935h0M266,857h0M289,1045h0M21,836h0M219,837h0M295,917h0M394,1040h0M17,765h0M215,938h0M245,854h0M224,1091h0M394,882h0M26,864h0M240,982h0M201,929h0M217,844h0M492,742h0M392,804h0M408,881h0M194,856h0M216,955h0M206,940h0M403,919h0M140,1007h0M318,945h0M58,742h0M136,1059h0M303,932h0M56,892h0M200,977h0M240,979h0M234,880h0M140,870h0M213,838h0M224,873h0M412,933h0M525,751h0M250,975h0M361,896h0M113,943h0M236,851h0M145,850h0M173,1050h0M11,859h0M505,928h0M249,849h0M99,961h0M489,745h0M25,877h0M34,855h0M408,817h0M263,849h0M238,845h0M393,1039h0M174,1029h0M370,916h0M428,984h0M468,776h0M197,954h0M279,823h0M83,975h0M247,835h0M324,938h0M197,897h0M298,903h0M504,761h0M325,956h0M120,1037h0M300,915h0M70,981h0M257,858h0M238,860h0M305,941h0M138,1009h0M302,1047h0M85,830h0M18,884h0M180,1056h0M339,902h0M187,1001h0M204,987h0M199,954h0M230,967h0M424,885h0M203,1011h0M252,863h0M316,908h0M230,860h0M317,902h0M299,943h0M208,969h0M206,858h0M301,1009h0M194,1034h0M7,893h0M381,874h0M263,862h0M413,931h0M224,890h0M312,898h0M177,973h0M379,921h0M163,852h0M219,875h0M327,936h0M513,742h0M310,922h0M417,1056h0M34,842h0M236,856h0M356,1039h0M219,945h0M116,951h0M163,1063h0M172,1026h0M220,824h0M226,847h0M534,749h0M121,866h0M245,860h0M416,832h0M248,856h0M294,933h0M312,911h0M124,1016h0M305,1027h0M505,875h0M535,996h0M142,1018h0M235,846h0M397,869h0M227,953h0M247,964h0M293,899h0M310,921h0M226,858h0M149,832h0M114,1038h0M229,885h0M288,997h0M256,876h0M252,888h0M243,846h0M70,975h0M368,908h0M8,865h0M209,925h0M399,789h0M236,866h0M219,989h0M285,941h0M125,1053h0M285,937h0M10,747h0M116,892h0M26,886h0M433,1007h0M324,1041h0M233,883h0M211,937h0M248,831h0M109,809h0M253,854h0M320,1045h0M326,1029h0M192,946h0M116,891h0M129,1020h0M445,1023h0M1,731h0M122,953h0M226,930h0M210,949h0M404,993h0M195,885h0M235,954h0M488,730h0M315,953h0M199,976h0M308,953h0M170,1023h0M407,834h0M293,949h0M237,857h0M391,1025h0M323,789h0M314,925h0M313,933h0M428,995h0M523,747h0M318,933h0M42,881h0M472,1018h0M197,981h0M459,1024h0M254,971h0M185,978h0M193,944h0M305,900h0M321,901h0M155,1060h0M206,935h0M395,886h0M152,1004h0M399,932h0M221,933h0M242,866h0M462,1015h0M197,858h0M217,974h0M31,843h0M137,1016h0M531,1094h0M239,944h0M436,799h0M77,928h0M76,885h0M227,945h0M314,909h0M335,939h0M46,841h0M307,1039h0M305,944h0M144,1039h0M125,1030h0M460,933h0M292,923h0M121,1014h0M120,1037h0M272,852h0M245,851h0M407,926h0M13,858h0M188,977h0M461,762h0M253,857h0M401,866h0M124,1021h0M217,990h0M223,930h0M115,988h0M80,934h0M247,864h0M521,858h0M435,900h0M512,907h0M189,967h0M314,929h0M198,967h0M199,851h0M315,1053h0M186,987h0M191,951h0M429,798h0M230,908h0M32,858h0M256,855h0M8,856h0M66,913h0M219,847h0M225,863h0M246,949h0M423,909h0M311,909h0M223,844h0M294,1054h0M392,871h0M3,886h0M249,839h0M534,918h0M5,799h0M32,864h0M92,894h0M137,1014h0M149,815h0M512,736h0M80,839h0M494,888h0M194,952h0M377,900h0M208,959h0M213,841h0M206,955h0M399,864h0M231,863h0M69,923h0M189,959h0M208,940h0M218,974h0M182,805h0M474,742h0M126,1066h0M536,893h0M431,992h0M310,950h0M21,840h0M247,859h0M217,965h0M167,1036h0M91,936h0M412,908h0M186,962h0M182,977h0M139,1070h0M247,961h0M468,1009h0M306,916h0M248,965h0M192,877h0M113,952h0M233,949h0M202,836h0M7,830h0M176,962h0M204,999h0M334,1092h0M224,958h0M245,871h0M377,859h0M245,885h0M457,1044h0M215,972h0M428,1027h0M188,936h0M247,975h0M222,902h0M334,916h0M229,880h0M404,1036h0M396,886h0M324,946h0M518,758h0M390,862h0M258,878h0M119,935h0M433,987h0M64,1061h0M416,740h0M271,802h0M224,1002h0M25,722h0M434,1041h0M389,824h0M173,1054h0M265,850h0M186,996h0M537,881h0M132,1033h0M11,853h0M276,869h0M220,934h0M309,901h0M420,877h0M232,949h0M240,957h0M191,968h0M202,860h0M405,1032h0M229,997h0M159,862h0M199,889h0M221,889h0M23,832h0M428,825h0M83,908h0M359,917h0M331,907h0M163,1025h0M179,956h0M415,1040h0M423,923h0M205,946h0M124,1049h0M472,729h0M430,984h0M249,837h0M403,920h0M204,885h0M402,1021h0M94,917h0M294,931h0M315,918h0M219,809h0M305,1036h0M437,1063h0M411,928h0M148,1011h0M243,885h0M288,915h0M490,756h0M255,895h0M228,880h0M218,986h0M254,839h0M257,968h0M291,943h0M304,916h0M331,933h0M469,764h0M264,864h0M22,750h0M460,768h0M165,866h0M321,1025h0M193,866h0M228,966h0M330,1015h0M240,993h0M203,842h0M149,830h0M241,907h0M400,867h0M308,918h0M450,1055h0M24,725h0M495,729h0M183,1056h0M239,956h0M512,927h0M98,890h0M28,835h0M100,830h0M228,897h0M245,955h0M79,1090h0M48,753h0M251,843h0M205,930h0M431,1031h0M394,1042h0M288,938h0M180,986h0M417,805h0M248,973h0M396,869h0M386,895h0M255,834h0M31,896h0M325,939h0M303,908h0M402,934h0M120,932h0M405,862h0M232,839h0M315,927h0M242,964h0M208,1006h0M419,999h0M382,924h0M309,905h0M426,893h0M133,842h0M391,809h0M405,811h0M233,884h0M90,918h0M212,827h0M264,815h0M247,893h0M451,1022h0M141,1063h0M234,950h0M26,847h0M100,973h0M210,935h0M269,865h0M231,854h0M312,958h0M98,851h0M393,882h0M315,934h0M206,961h0M257,866h0M302,941h0M231,899h0M194,979h0M256,854h0M116,1026h0M308,911h0M31,875h0M322,1069h0M210,827h0M213,850h0M356,905h0M144,1052h0M99,975h0M224,867h0M188,964h0M138,1010h0M328,924h0M232,826h0M333,910h0M336,926h0M192,992h0M230,855h0M130,1017h0M241,945h0M197,997h0M131,772h0M475,766h0M194,961h0M410,923h0M439,1029h0M216,967h0M209,932h0M465,952h0M202,966h0M319,900h0M335,913h0M228,878h0M237,832h0M412,1030h0M226,954h0M505,754h0M225,949h0M323,1072h0M394,1015h0M250,963h0M202,880h0M418,1060h0M400,1028h0M261,865h0M222,835h0M387,1015h0M364,772h0M124,827h0M231,882h0M482,750h0M161,1058h0M397,810h0M128,1020h0M247,858h0M242,885h0M137,1054h0M229,836h0M214,943h0M506,758h0M189,994h0M161,1041h0M280,922h0M206,991h0M311,892h0M400,783h0M114,828h0M413,995h0M396,1002h0M195,861h0M472,738h0M39,847h0M383,1025h0M341,934h0M203,879h0M318,937h0M155,1043h0M274,812h0M242,891h0M299,930h0M43,870h0M204,973h0M220,958h0M327,903h0M305,920h0M296,942h0M245,884h0M518,930h0M260,969h0M322,907h0M257,847h0M360,896h0M307,933h0M459,1042h0M394,886h0M256,853h0M336,1015h0M323,905h0M229,1006h0M283,1067h0M430,804h0M332,945h0M146,1004h0M418,1011h0M230,830h0M171,715h0M380,898h0M301,912h0M411,915h0M215,881h0M195,845h0M80,866h0M329,1072h0M240,883h0M246,974h0M214,786h0M188,974h0M319,900h0M314,907h0M144,845h0M227,944h0M399,869h0M243,956h0M208,966h0M217,954h0M490,778h0M466,1000h0M116,1032h0M333,1043h0M409,910h0M257,971h0M316,948h0M160,1004h0M242,961h0M243,858h0M208,980h0M416,1024h0M202,887h0M257,837h0M212,840h0M41,885h0M257,858h0M499,870h0M141,1041h0M215,844h0M220,902h0M190,804h0M530,734h0M87,865h0M524,740h0M201,873h0M498,773h0M303,945h0M295,906h0M154,1040h0M215,857h0M531,998h0M112,955h0M235,852h0M251,879h0M210,882h0M422,793h0M33,884h0M245,881h0M418,820h0M211,973h0M228,867h0M267,857h0M206,894h0M170,1034h0M512,984h0M220,855h0M429,1039h0M189,991h0M454,1036h0M230,952h0M410,855h0M42,866h0M237,996h0M168,863h0M202,866h0M200,956h0M304,898h0M388,913h0M27,728h0M433,1041h0M334,919h0M366,718h0M311,947h0M205,877h0M211,930h0M262,827h0M261,974h0M202,968h0M163,999h0M234,853h0M227,960h0M374,906h0M139,1027h0M236,821h0M244,855h0M323,738h0M197,970h0M205,1002h0M199,959h0M442,892h0M200,983h0M474,877h0M423,988h0M320,929h0M522,749h0M37,844h0M229,850h0M387,871h0M219,888h0M114,834h0M394,858h0M358,920h0M191,978h0M212,858h0M432,870h0M395,833h0M204,935h0M494,761h0M294,928h0M344,1037h0M445,883h0M389,808h0M194,957h0M300,901h0M217,868h0M201,840h0M114,870h0M182,973h0M227,900h0M392,880h0M200,961h0M294,913h0M513,763h0M314,934h0M126,809h0M315,923h0M209,991h0M3,757h0M216,942h0M199,947h0M387,917h0M477,723h0M1,831h0M260,855h0M242,841h0M182,836h0M241,944h0M327,1043h0M516,785h0M314,1034h0M131,936h0M264,882h0M288,935h0M316,942h0M201,877h0M434,1041h0M219,939h0M415,810h0M418,1022h0M198,800h0M472,769h0M120,816h0M110,827h0M228,883h0M409,819h0M191,980h0M148,865h0M328,907h0M275,978h0M319,904h0M215,842h0M141,852h0M207,866h0M498,739h0M320,1088h0M435,1009h0M390,794h0M293,941h0M251,943h0M235,976h0M401,1035h0M301,919h0M213,948h0M193,957h0M415,1036h0M359,916h0M308,916h0M158,1031h0M317,918h0M201,965h0M311,892h0M233,845h0M101,911h0M431,870h0M401,801h0M96,916h0M297,909h0M119,892h0M252,886h0M186,991h0M201,950h0M223,878h0M219,969h0M509,888h0M196,869h0M203,835h0M458,1030h0M311,943h0M466,1053h0M255,974h0M158,869h0M287,913h0M469,753h0M138,1056h0M77,1067h0M297,903h0M303,904h0M93,720h0M245,860h0M217,1005h0M424,1050h0M427,905h0M128,811h0M19,894h0M223,952h0M193,959h0M33,895h0M99,857h0M223,973h0M73,970h0M189,959h0M224,974h0M308,1063h0M439,895h0M425,805h0M243,864h0M198,999h0M145,999h0M70,1092h0M435,1001h0M235,871h0M207,971h0M451,791h0M205,854h0M235,957h0M267,863h0M223,869h0M255,839h0M244,951h0M295,912h0M459,1031h0M221,901h0M287,934h0M459,1002h0M222,925h0M157,1009h0M404,894h0M2,742h0M313,1029h0M203,948h0M88,950h0M220,850h0M128,877h0M396,786h0M402,987h0M146,1057h0M311,913h0M219,850h0M299,938h0M518,1018h0M508,740h0M159,927h0M419,778h0M188,994h0M135,845h0M398,911h0M156,1064h0M196,996h0M178,964h0M389,851h0M318,1063h0M297,950h0M187,970h0M86,935h0M202,992h0M331,924h0M216,969h0M198,960h0M212,1005h0M101,1063h0M214,974h0M246,952h0M98,841h0M202,1002h0M152,830h0M408,1040h0M236,887h0M303,944h0M289,971h0M198,968h0M483,763h0M243,850h0M535,1042h0M148,852h0M307,899h0M325,906h0M152,840h0M413,903h0M17,763h0M269,875h0M205,889h0M245,880h0M148,830h0M111,941h0M306,957h0M139,1038h0M392,918h0M255,859h0M526,732h0M334,927h0M288,934h0M258,875h0M250,984h0M70,1010h0M146,1062h0M358,881h0M171,1026h0M192,986h0M298,918h0M393,1058h0M380,886h0M152,1028h0M302,949h0M269,860h0M244,866h0M116,1036h0M231,902h0M497,747h0M257,850h0M434,912h0M240,888h0M135,1066h0M224,998h0M390,794h0M132,1048h0M175,953h0M269,854h0M353,889h0M141,1035h0M364,901h0M439,1015h0M297,942h0M220,836h0M213,997h0M195,959h0M283,921h0M237,892h0M220,981h0M300,928h0M201,962h0M283,907h0M509,762h0M450,1026h0M221,858h0M253,837h0M194,860h0M31,831h0M29,889h0M246,848h0M267,837h0M9,839h0M240,872h0M407,906h0M241,994h0M218,941h0M185,796h0M90,966h0M95,953h0M222,965h0M143,982h0M246,902h0M255,836h0M253,949h0M252,828h0M251,891h0M203,890h0M173,1050h0M203,975h0M317,934h0M225,933h0M314,954h0M291,941h0M422,1055h0M33,857h0M519,725h0M521,1024h0M502,718h0M149,1004h0M47,875h0M406,875h0M249,843h0M188,981h0M407,915h0M237,858h0M242,947h0M242,839h0M328,914h0M242,859h0M122,1023h0M228,958h0M299,954h0M458,992h0M261,884h0M224,969h0M449,1002h0M299,931h0M254,830h0M251,899h0M228,853h0M332,900h0M297,920h0M192,981h0M432,832h0M314,917h0M274,866h0M213,992h0M181,1048h0M153,871h0M387,912h0M213,835h0M217,850h0M398,878h0M126,764h0M418,874h0M145,855h0M298,927h0M228,840h0M164,1060h0M255,865h0M236,839h0M86,975h0M425,998h0M219,955h0M233,943h0M153,860h0M215,1092h0M207,948h0M256,871h0M244,840h0M252,878h0M144,1041h0M308,1032h0M451,1014h0M349,1091h0M222,958h0M246,950h0M231,889h0M217,875h0M391,917h0M231,861h0M118,925h0M170,1059h0M291,817h0M429,1031h0M203,855h0M333,1065h0M149,864h0M521,731h0M29,898h0M240,960h0M244,979h0M429,1033h0M92,843h0M239,844h0M325,944h0M285,939h0M228,969h0M27,841h0M253,843h0M313,934h0M503,785h0M220,956h0M31,761h0M125,1044h0M174,1045h0M183,944h0M156,872h0M198,886h0M529,883h0M244,872h0M4,738h0M181,956h0M263,888h0M317,933h0M404,994h0M118,1038h0M239,861h0M363,939h0M306,926h0M43,962h0M246,839h0M356,1025h0M236,952h0M32,876h0M491,898h0M404,894h0M465,1012h0M224,845h0M247,896h0M240,830h0M230,884h0M294,908h0M442,979h0M102,926h0M140,1057h0M228,1023h0M227,902h0M138,1030h0M131,1026h0M336,930h0M459,733h0M203,969h0M210,935h0M413,912h0M163,849h0M490,745h0M190,978h0M323,950h0M207,861h0M43,755h0M417,890h0M201,1033h0M98,960h0M101,1094h0M289,767h0M395,817h0M268,899h0M250,830h0M193,939h0M516,748h0M232,841h0M536,750h0M412,867h0M504,900h0M121,1092h0M238,972h0M312,941h0M161,1033h0M510,781h0M512,875h0M71,1078h0M244,836h0M311,939h0M295,1054h0M229,843h0M247,970h0M520,1009h0M174,1028h0M147,1010h0M117,958h0M205,1003h0M464,767h0M36,752h0M36,761h0M233,863h0M322,925h0M196,960h0M79,919h0M241,988h0M338,915h0M161,759h0M244,949h0M246,889h0M302,903h0M153,832h0M254,881h0M219,862h0M225,965h0M516,935h0M241,844h0M202,845h0M217,903h0M266,855h0M384,862h0M317,950h0M321,919h0M431,1008h0M262,954h0M502,911h0M407,885h0M146,1042h0M401,905h0M191,873h0M203,949h0M214,952h0M211,845h0M203,929h0M248,726h0M329,909h0M210,978h0M283,927h0M469,1024h0M513,1025h0M490,733h0M221,839h0M219,977h0M469,758h0M152,1031h0M184,980h0M517,761h0M88,954h0M210,986h0M200,1005h0M283,925h0M189,955h0M300,904h0M11,894h0M230,868h0M115,879h0M139,864h0M218,837h0M412,902h0M180,970h0M235,964h0M322,916h0M251,870h0M259,854h0M464,746h0M229,841h0M334,1068h0M249,978h0M91,939h0M414,1014h0M283,912h0M269,867h0M472,718h0M236,878h0M201,832h0M229,846h0M187,956h0M324,925h0M248,961h0M96,935h0M100,1054h0M395,807h0M381,881h0M315,947h0M382,886h0M267,930h0M22,860h0M85,903h0M438,904h0M224,890h0M64,922h0M235,973h0M245,849h0M158,1031h0M227,853h0M93,882h0M385,898h0M209,860h0M304,934h0M414,796h0M123,778h0M231,1082h0M237,958h0M9,846h0M200,954h0M194,871h0M224,981h0M405,909h0M512,743h0M297,946h0M524,926h0M158,827h0M397,810h0M227,973h0M96,934h0M148,1043h0M408,1050h0M216,898h0M220,971h0M39,899h0M331,908h0M427,1046h0M285,907h0M425,803h0M235,871h0M298,937h0M206,875h0M337,1021h0M311,909h0M226,834h0M13,885h0M460,1022h0M206,952h0M223,839h0M237,993h0M518,749h0M140,1039h0M177,1020h0M179,954h0M275,877h0M229,968h0M462,1015h0M231,988h0M475,765h0M151,1018h0M130,866h0M175,1061h0M509,1068h0M52,852h0M329,907h0M203,875h0M213,859h0M217,960h0M197,957h0M197,941h0M323,929h0M223,866h0M194,852h0M150,981h0M402,858h0M271,827h0M100,844h0M194,873h0M198,978h0M293,929h0M258,955h0M211,956h0M255,834h0M160,1035h0M3,740h0M327,949h0M156,1049h0M394,817h0M274,813h0M261,877h0M144,1045h0M124,886h0M200,861h0M212,988h0M232,840h0M143,818h0M238,961h0M166,1044h0M216,968h0M229,837h0M13,895h0M111,966h0M36,750h0M236,989h0M232,950h0M109,1081h0M210,957h0M34,841h0M40,717h0M158,826h0M250,822h0M420,1006h0M305,912h0M192,890h0M218,966h0M328,919h0M408,854h0M329,920h0M200,935h0M214,833h0M241,1092h0M304,936h0M28,841h0M222,953h0M497,930h0M265,760h0M172,947h0M203,844h0M486,771h0M218,828h0M525,732h0M515,766h0M224,860h0M439,1030h0M532,995h0M292,931h0M224,861h0M53,739h0M182,1035h0M376,871h0M205,949h0M290,950h0M399,1020h0M249,848h0M235,879h0M474,760h0M435,824h0M206,847h0M104,979h0M191,944h0M208,965h0M209,843h0M322,897h0M105,811h0M328,945h0M216,831h0M109,856h0M192,973h0M178,738h0M192,873h0M210,850h0M127,1022h0M248,956h0M120,837h0M154,1067h0M95,913h0M58,931h0M240,854h0M78,919h0M458,820h0M492,722h0M164,1038h0M278,792h0M406,758h0M384,899h0M239,936h0M398,992h0M246,1097h0M199,934h0M210,841h0M204,959h0M116,955h0M387,983h0M104,869h0M232,956h0M321,925h0M435,986h0M326,1073h0M186,998h0M232,889h0M216,950h0M17,863h0M252,872h0M229,1059h0M489,787h0M526,783h0M75,930h0M213,944h0M339,923h0M418,845h0M242,963h0M243,967h0M382,862h0M516,748h0M419,919h0M239,894h0M204,838h0M227,834h0M404,811h0M495,888h0M221,942h0M218,882h0M150,1068h0M74,852h0M93,832h0M214,947h0M143,812h0M117,811h0M216,847h0M494,726h0M236,898h0M224,895h0M419,803h0M209,989h0M403,1029h0M93,944h0M182,863h0M418,834h0M240,896h0M193,866h0M156,1021h0M118,1010h0M512,783h0M45,859h0M249,851h0M222,944h0M417,831h0M518,762h0M213,867h0M80,972h0M213,958h0M414,870h0M214,885h0M302,941h0M530,1073h0M252,902h0M201,970h0M344,1041h0M249,968h0M66,829h0M216,979h0M217,941h0M185,960h0M103,893h0M443,1025h0M74,1067h0M78,924h0M253,862h0M140,1042h0M209,840h0M91,935h0M394,817h0M493,769h0M288,924h0M415,814h0M267,872h0M368,915h0M162,847h0M218,1003h0M382,819h0M317,949h0M201,953h0M42,846h0M382,807h0M340,930h0M479,731h0M197,838h0M203,967h0M451,986h0M217,837h0M112,894h0M301,904h0M22,831h0M210,992h0M182,1039h0M153,829h0M208,955h0M199,950h0M312,907h0M533,1039h0M136,866h0M249,840h0M523,980h0M243,875h0M40,891h0M393,989h0M480,737h0M16,893h0M235,929h0M79,922h0M9,847h0M122,969h0M130,880h0M121,1060h0M213,982h0M217,863h0M121,816h0M534,906h0M299,951h0M184,969h0M146,832h0M6,869h0M195,993h0M142,1057h0M215,986h0M420,1017h0M219,853h0M209,853h0M225,933h0M243,980h0M123,857h0M217,964h0M460,992h0M203,903h0M159,1062h0M217,879h0M140,841h0M78,958h0M445,800h0M230,944h0M221,948h0M203,874h0M398,991h0M299,935h0M228,950h0M114,1033h0M160,1009h0M388,903h0M246,937h0M333,916h0M505,736h0M103,863h0M510,878h0M335,1014h0M211,855h0M479,749h0M391,868h0M222,837h0M426,991h0M417,816h0M424,990h0M199,1000h0M246,836h0M458,1013h0M282,1019h0M204,840h0M237,870h0M153,1050h0M421,1029h0M178,946h0M453,1024h0M213,874h0M247,875h0M337,1070h0M201,862h0M216,835h0M312,930h0M170,1019h0M204,939h0M229,840h0M319,1031h0M422,800h0M206,849h0M274,865h0M237,859h0M527,922h0M312,905h0M536,940h0M228,993h0M307,936h0M464,1019h0M240,944h0M385,871h0M418,1026h0M509,933h0M385,818h0M198,883h0M530,1092h0M522,772h0M281,928h0M220,976h0M191,974h0M419,916h0M305,1004h0M387,874h0M421,873h0M310,890h0M309,955h0M72,866h0M329,942h0M190,945h0M208,895h0M205,974h0M117,893h0M101,870h0M114,807h0M326,949h0M299,956h0M396,797h0M86,923h0M215,852h0M188,943h0M249,952h0M483,740h0M322,950h0M320,938h0M215,927h0M122,841h0M63,960h0M430,1056h0M241,977h0M304,896h0M400,900h0M439,899h0M428,1011h0M475,760h0M334,908h0M276,824h0M113,972h0M207,903h0M210,895h0M435,887h0M450,1037h0M527,763h0M288,1030h0M364,864h0M307,920h0M136,1039h0M228,882h0M390,912h0M209,952h0M401,897h0M333,926h0M310,1070h0M486,900h0M305,897h0M343,754h0M197,983h0M144,1062h0M234,1000h0M162,1016h0M94,854h0M305,907h0M422,793h0M400,934h0M240,981h0M74,924h0M425,866h0M16,721h0M185,990h0M298,907h0M143,1067h0M333,903h0M256,938h0M295,1019h0M401,860h0M231,863h0M238,903h0M190,946h0M157,1062h0M258,1089h0M319,950h0M261,877h0M284,807h0M64,946h0M260,890h0M537,838h0M165,1048h0M383,878h0M467,766h0M126,1087h0M430,878h0M122,819h0M431,1047h0M54,849h0M205,954h0M419,1052h0M218,988h0M238,848h0M35,889h0M207,970h0M243,829h0M340,919h0M240,894h0M217,797h0M258,983h0M374,1032h0M218,866h0M50,868h0M470,759h0M367,857h0M216,961h0M226,972h0M208,986h0M332,911h0M223,963h0M217,839h0M412,744h0M387,1017h0M146,1025h0M270,855h0M197,944h0M272,812h0M130,826h0M302,950h0M185,963h0M12,831h0M39,880h0M266,859h0M139,856h0M299,922h0M433,1060h0M103,835h0M245,975h0M321,942h0M446,1025h0M147,1055h0M137,1019h0M234,848h0M233,834h0M341,785h0M225,836h0M315,938h0M2,855h0M312,917h0M389,1032h0M185,1032h0M402,1036h0M243,865h0M292,949h0M214,970h0M209,991h0M35,858h0M167,753h0M448,907h0M220,958h0M302,894h0M238,862h0M287,1096h0M310,914h0M156,1027h0M149,818h0M520,983h0M287,1056h0M488,893h0M102,958h0M206,1007h0M237,823h0M398,826h0M399,893h0M214,843h0M406,990h0M516,778h0M238,978h0M513,721h0M321,903h0M489,900h0M282,902h0M490,754h0M207,888h0M292,941h0M278,917h0M460,759h0M212,893h0M99,824h0M452,1007h0M305,922h0M151,1048h0M380,871h0M237,867h0M44,869h0M438,802h0M23,855h0M401,992h0M202,854h0M535,1035h0M80,917h0M362,889h0M365,866h0M310,1045h0M177,954h0M244,868h0M435,816h0M402,1043h0M0,895h0M189,956h0M356,1076h0M209,895h0M174,1030h0M385,774h0M219,979h0M230,930h0M243,956h0M243,879h0M228,997h0M415,894h0M77,742h0M310,909h0M238,863h0M28,836h0M301,933h0M150,1072h0M429,980h0M226,999h0M416,1001h0M214,978h0M209,1079h0M236,961h0M231,967h0M242,977h0M468,743h0M107,878h0M254,887h0M247,969h0M38,884h0M476,743h0" stroke="#ff2222" stroke-width="3.0"/>
</g></g>
<rect x="12.3" y="727" width="445.8" height="60.4" fill="#fff"/>
<text transform="translate(70.1,767.9) scale(1,1.045)" font-size="34.2" text-anchor="start" fill="#000" stroke="#000" stroke-width="0.35" >High oxygen element</text>
<rect x="426.4" y="1043.8" width="104.8" height="51.3" fill="#fff"/>
<text transform="translate(431.0,1075.6) scale(1,1.045)" font-size="36.6" text-anchor="start" fill="#000" stroke="#000" stroke-width="0.35" >20 µm</text>
<rect x="463.5" y="1083.1" width="37" height="2" fill="#000"/>
<path d="M680.7,633.7 L650.1,701.9 L672.4,686.2 C673,700 673.3,712 673.2,725.4 C673.6,733 674.6,741 674.8,748.9 C674.6,755 673.8,760 671.6,764.5 C669,768 666,769.6 662.2,770 C657,770 652,768.4 646.6,766.1 C640,763.5 633.5,761.5 627,759.8 C633.5,765 640,769.5 646.6,773.9 C652.5,778 658.5,781.2 665.4,783.3 C670.5,784.6 676,784.6 681,783.3 C685,782 688,780 690.4,777.1 C694.5,771 696.8,764 698.3,756.7 C700,746.5 700.9,736 701.4,725.4 C701.6,712 700.5,698 698.3,684.6 L719.4,697.9 Z" fill="#12a560"/>
<path d="M670.1,673.6 C662,666 656,661 649.7,658 C642,652.5 636,648 627.7,647 C621,646 616,646 610.5,647 C605,649 602,652 599.5,656.4 C595,664 593,671 591.7,678.3 C590.5,688 590,699 590.1,709.7 C590.2,720 591,730 592.5,739.5 L569.8,726.9 L609.7,790.4 L641.8,725.4 L621.5,739.5 C619.5,730 618,720 617.6,709.7 C617,699 616.6,688 616.8,678.3 C617.3,672.5 618.5,668 621.5,664.2 C624,661 627,660 630.9,659.5 C636,659.3 641,660.5 646.5,662.7 C654,665.5 662,669.5 670.1,673.6 Z" fill="#cc0000"/>
<g stroke="#3b82e6" stroke-width="4.8" fill="none" stroke-dasharray="19.2 14.97">
<line x1="748.2" y1="2.0" x2="1896" y2="2.0"/>
<line x1="1897.6" y1="15" x2="1897.6" y2="1404"/>
<line x1="732.7" y1="1401.9" x2="1900" y2="1401.9"/>
<line x1="731.6" y1="0.5" x2="731.6" y2="1390"/>
</g>
<text transform="translate(1331.6,65.5) scale(1,1.045)" font-size="38.4" text-anchor="middle" fill="#000" stroke="#000" stroke-width="0.35" >Biocompatibility</text>
<text transform="translate(1348.2,400.6) scale(1,1.045)" font-size="38.4" text-anchor="middle" fill="#000" stroke="#000" stroke-width="0.35" >Process window</text>
<text transform="translate(1338.1,946.1) scale(1,1.045)" font-size="38.4" text-anchor="middle" fill="#000" stroke="#000" stroke-width="0.35" >Mechanical properties</text>
<defs>
<linearGradient id="dishSide" x1="0" y1="0" x2="1" y2="0">
 <stop offset="0" stop-color="#c3ccd8"/><stop offset="0.12" stop-color="#bdd0e8"/><stop offset="0.35" stop-color="#cfe4f6"/>
 <stop offset="0.5" stop-color="#e6f8ff"/><stop offset="0.66" stop-color="#cde2f6"/><stop offset="0.88" stop-color="#b6cce8"/><stop offset="1" stop-color="#c2cad4"/>
</linearGradient>
<linearGradient id="dishLow" x1="0" y1="0" x2="1" y2="0">
 <stop offset="0" stop-color="#a9b5c6"/><stop offset="0.25" stop-color="#a3b6d2"/><stop offset="0.42" stop-color="#d2e8f8"/>
 <stop offset="0.52" stop-color="#e9fbff"/><stop offset="0.68" stop-color="#c4dcf4"/><stop offset="0.9" stop-color="#b4c6e0"/><stop offset="1" stop-color="#bcc4ce"/>
</linearGradient>
<linearGradient id="dishRim" x1="0" y1="0" x2="1" y2="0">
 <stop offset="0" stop-color="#e3e6ea"/><stop offset="0.25" stop-color="#f6f8fa"/><stop offset="0.55" stop-color="#ffffff"/><stop offset="0.72" stop-color="#dedfe2"/><stop offset="0.9" stop-color="#d6d8dc"/><stop offset="1" stop-color="#e0e2e6"/>
</linearGradient>
<linearGradient id="dishLiq" x1="0" y1="0" x2="1" y2="0">
 <stop offset="0" stop-color="#c4dcf4"/><stop offset="0.3" stop-color="#d9eefc"/><stop offset="0.5" stop-color="#e4fbff"/><stop offset="0.7" stop-color="#c6dcf6"/><stop offset="1" stop-color="#b9d0ee"/>
</linearGradient>
<linearGradient id="dishWall" x1="0" y1="0" x2="1" y2="0">
 <stop offset="0" stop-color="#b4c8e4"/><stop offset="0.4" stop-color="#cfe6f8"/><stop offset="0.5" stop-color="#e2f8ff"/><stop offset="0.7" stop-color="#bfd6f2"/><stop offset="1" stop-color="#adc4e4"/>
</linearGradient>
<linearGradient id="dishGlow" x1="0" y1="0" x2="1" y2="0">
 <stop offset="0" stop-color="#ecfdff" stop-opacity="0"/><stop offset="0.5" stop-color="#ecfdff" stop-opacity="0.75"/><stop offset="1" stop-color="#ecfdff" stop-opacity="0"/>
</linearGradient>
<filter id="blurD" x="-5%" y="-10%" width="110%" height="120%"><feGaussianBlur stdDeviation="0.9"/></filter>
<filter id="blur1"><feGaussianBlur stdDeviation="1.2"/></filter>
<filter id="blur2"><feGaussianBlur stdDeviation="2.2"/></filter>
</defs>
<clipPath id="dishClip"><path d="M1167.4,122 L1167.4,147.5 A84.7,28 0 0 0 1336.8,147.5 L1336.8,122 A84.7,30 0 0 0 1167.4,122 Z"/></clipPath>
<g filter="url(#blurD)">
<path d="M1167.4,122 L1167.4,147.5 A84.7,28 0 0 0 1336.8,147.5 L1336.8,122 A84.7,30 0 0 0 1167.4,122 Z" fill="url(#dishSide)"/>
<path d="M1167.4,139 L1167.4,147.5 A84.7,28 0 0 0 1336.8,147.5 L1336.8,139 A84.7,28 0 0 1 1167.4,139 Z" fill="url(#dishLow)"/>
<ellipse cx="1252.1" cy="122" rx="84.7" ry="30" fill="url(#dishRim)" stroke="#cfd3d8" stroke-width="0.8"/>
<ellipse cx="1252.1" cy="128.5" rx="78.5" ry="17.2" fill="url(#dishLiq)"/>
<path d="M1173.6,128.5 A78.5,17.2 0 0 0 1330.6,128.5 L1334,126 L1334,134 A82,24 0 0 1 1170,134 L1170,126 Z" fill="url(#dishWall)" opacity="0.9"/>
<g clip-path="url(#dishClip)"><rect x="1215" y="85" width="70" height="95" fill="url(#dishGlow)"/></g>
</g>
<g>
<path d="M1474.0,256.0 C1474.6,256.1 1474.6,255.8 1477.8,256.9 C1481.0,258.0 1488.5,262.6 1493.4,262.8 C1498.3,263.0 1502.9,261.6 1507.1,257.9 C1511.3,254.2 1514.6,245.1 1518.8,240.4 C1523.0,235.7 1527.5,232.0 1532.4,229.7 C1537.3,227.3 1541.5,226.3 1548.0,226.3 C1554.5,226.3 1564.3,228.2 1571.3,229.7 C1578.3,231.2 1584.2,233.5 1590.0,235.5 C1595.8,237.5 1603.7,240.8 1606.4,241.9 L1606.4,242.7 C1603.7,242.1 1595.8,240.4 1590.0,239.2 C1584.2,238.0 1578.0,236.3 1571.3,235.5 C1564.6,234.7 1555.4,234.0 1549.9,234.5 C1544.4,235.0 1541.8,235.8 1538.2,238.4 C1534.6,241.0 1532.1,245.2 1528.5,250.1 C1524.9,255.0 1521.0,263.4 1516.8,267.6 C1512.6,271.8 1507.8,274.1 1503.2,275.4 C1498.7,276.7 1493.9,276.0 1489.5,275.4 C1485.1,274.8 1479.8,272.6 1476.9,271.5 C1474.0,270.4 1472.8,269.4 1472.0,269.0 Z" fill="#e5848a"/>
<path d="M1477.3,263.0 C1479.7,263.8 1486.8,267.5 1491.5,267.9 C1496.1,268.3 1500.8,268.0 1505.2,265.4 C1509.5,262.9 1513.6,257.3 1517.8,252.8 C1522.0,248.3 1526.2,242.3 1530.5,238.7 C1534.7,235.1 1538.1,232.5 1543.1,231.2 C1548.1,229.9 1557.7,230.9 1560.6,230.9" fill="none" stroke="#f2aeb0" stroke-width="2.4" stroke-linecap="round" opacity="0.85"/>
<g stroke="#94625c" stroke-width="2" stroke-linecap="round" fill="none"><path d="M1454,294 L1443,310"/><path d="M1455,296 L1450,313"/><path d="M1456,296 L1458,313"/><path d="M1457,295 L1472,305"/></g>
<path d="M1449,290 L1461,288 L1459,300 L1451,301 Z" fill="#b88a84"/>
<path d="M1340,300 L1357,308 L1347,320 L1334,322 Z" fill="#c49a90"/>
<g stroke="#94625c" stroke-width="2" stroke-linecap="round" fill="none"><path d="M1342,317 L1323,324"/><path d="M1343,319 L1326,328"/><path d="M1345,320 L1332,331"/></g>
<path d="M1286,264.7 C1292,251 1302,242 1314.3,236.5 C1328,231 1342,229 1355.2,225.8 C1366,222 1376,217 1386.3,212.1 C1398,206 1409,200 1421.4,199.1 C1430,198.6 1438,200.5 1444.7,204.3 C1452,208 1459,213 1464.2,219 C1469.5,225 1473.5,231 1475.9,238.4 C1477.6,243.5 1478.2,249 1477.8,254 C1477,261 1475,268 1472,273.5 C1469,279.5 1465,285 1460.3,289 C1455.5,293 1450,296.5 1444.7,298.8 C1432,303.5 1418,307 1405.8,310.5 C1399,312.5 1392,315 1386.3,316.3 C1383,313.5 1380,311 1376.6,308.5 C1364,302 1350,296.5 1337.6,291 C1328,287.5 1318,284.5 1308.4,281.3 C1302,279 1296,276.5 1290.9,273.5 C1288.5,270.5 1287,267.5 1286,264.7 Z" fill="#fff" stroke="#b4b8c0" stroke-width="1.0"/>
<path d="M1314,281 C1322,281 1331,281 1338,283 C1350,287 1364,292 1374,296 C1378,300 1378,304 1378,308 C1366,302 1352,297 1337.6,291 C1329,288 1321,285 1314,281 Z" fill="#ebecf0"/>
<path d="M1405.8,310.5 C1412,300 1418,292 1425,285 C1438,281 1452,277 1464,273 C1468,270 1471,266 1472,262 C1473,268 1472,273 1469,279 C1465,285 1460,290 1454,294 C1448,297 1440,300 1432,303 C1424,306 1414,308 1405.8,310.5 Z" fill="#ebecf0"/>
<path d="M1374,308 L1388,316 L1383,322 L1376,320 Z" fill="#8e5f5a"/>
<g stroke="#8e5f5a" stroke-width="2" stroke-linecap="round" fill="none"><path d="M1378,318 L1365,332"/><path d="M1380,320 L1372,333"/><path d="M1382,320 L1384,334"/><path d="M1384,318 L1398,330"/></g>
<path d="M1352,238 C1353,231 1360,227 1369,227 C1376,227 1381,229 1380,234 C1379,241 1375,248 1368,253 C1363,256 1357,256 1354,252 C1351,248 1351,243 1352,238 Z" fill="#f9d7cb"/>
<ellipse cx="1363.5" cy="244.5" rx="6" ry="8" fill="#f3b7a3" transform="rotate(20 1363.5 244.5)"/>
<ellipse cx="1361.4" cy="248" rx="1.6" ry="3.6" fill="#1a0a0a"/>
<ellipse cx="1327" cy="252" rx="7" ry="5.5" fill="#f6c9cc" transform="rotate(15 1327 252)"/>
<circle cx="1327" cy="252" r="3.6" fill="#d62839"/>
<circle cx="1328" cy="251" r="1" fill="#fff"/>
<ellipse cx="1318" cy="258.5" rx="6" ry="4" fill="#9b9ba5" opacity="0.55" filter="url(#blur1)"/>
<circle cx="1290" cy="264.5" r="3.6" fill="#ee8f96"/>
<circle cx="1290" cy="264" r="1.3" fill="#fbe0e0"/>
<path d="M1288,268 L1293,269" stroke="#50302e" stroke-width="1.4"/>
<ellipse cx="1327" cy="217" rx="3.2" ry="6.5" fill="#8d9299" opacity="0.6" filter="url(#blur1)"/>
<g stroke="#cfd2d8" stroke-width="0.8" fill="none" opacity="0.9"><path d="M1294,266 C1310,266 1325,270 1342,278"/><path d="M1294,268 C1306,274 1316,280 1330,284"/><path d="M1288,260 C1280,252 1270,244 1262,238"/><path d="M1287,262 C1278,258 1268,252 1258,248"/></g>
</g>
<g id="chart1">
<rect x="826.6" y="439.7" width="504.3" height="370.8" fill="none" stroke="#000" stroke-width="2.1"/>
<path d="M927.6,810.5 v-7.5 M1028.6,810.5 v-7.5 M1129.6,810.5 v-7.5 M1230.6,810.5 v-7.5 M826.6,736.3 h7.5 M826.6,662.2 h7.5 M826.6,588.0 h7.5 M826.6,513.9 h7.5" stroke="#000" stroke-width="1.8" fill="none"/>
<text transform="translate(828.0,841.2) scale(1,0.975)" font-size="29.5" text-anchor="middle" fill="#000" stroke="#000" stroke-width="0.35" >140</text>
<text transform="translate(928.1,841.2) scale(1,0.975)" font-size="29.5" text-anchor="middle" fill="#000" stroke="#000" stroke-width="0.35" >160</text>
<text transform="translate(1028.3,841.2) scale(1,0.975)" font-size="29.5" text-anchor="middle" fill="#000" stroke="#000" stroke-width="0.35" >180</text>
<text transform="translate(1128.4,841.2) scale(1,0.975)" font-size="29.5" text-anchor="middle" fill="#000" stroke="#000" stroke-width="0.35" >200</text>
<text transform="translate(1228.6,841.2) scale(1,0.975)" font-size="29.5" text-anchor="middle" fill="#000" stroke="#000" stroke-width="0.35" >220</text>
<text transform="translate(1328.7,841.2) scale(1,0.975)" font-size="29.5" text-anchor="middle" fill="#000" stroke="#000" stroke-width="0.35" >240</text>
<text transform="translate(817.5,817.0) scale(1,0.975)" font-size="29.5" text-anchor="end" fill="#000" stroke="#000" stroke-width="0.35" >95</text>
<text transform="translate(817.5,744.8) scale(1,0.975)" font-size="29.5" text-anchor="end" fill="#000" stroke="#000" stroke-width="0.35" >96</text>
<text transform="translate(817.5,670.7) scale(1,0.975)" font-size="29.5" text-anchor="end" fill="#000" stroke="#000" stroke-width="0.35" >97</text>
<text transform="translate(817.5,596.5) scale(1,0.975)" font-size="29.5" text-anchor="end" fill="#000" stroke="#000" stroke-width="0.35" >98</text>
<text transform="translate(817.5,522.4) scale(1,0.975)" font-size="29.5" text-anchor="end" fill="#000" stroke="#000" stroke-width="0.35" >99</text>
<text transform="translate(820.6,448.7) scale(1,0.975)" font-size="29.5" text-anchor="end" fill="#000" stroke="#000" stroke-width="0.35" >100</text>
<text transform="translate(774.5,726.3) rotate(-90) scale(1,1.045)" font-size="29.8" text-anchor="start" stroke="#000" stroke-width="0.35" >Relative density/%</text>
<text transform="translate(935.3,874.2) scale(1,1.045)" font-size="29.8" text-anchor="start" fill="#000" stroke="#000" stroke-width="0.35" >Energy density/(J</text>
<text transform="translate(1145.6,874.6) scale(1,1.045)" font-size="24" text-anchor="start" fill="#000" stroke="#000" stroke-width="0.35" >•</text>
<text transform="translate(1155.6,874.2) scale(1,1.045)" font-size="29.6" text-anchor="start" fill="#000" stroke="#000" stroke-width="0.35" >mm</text>
<text transform="translate(1202.9,864.0) scale(1,1.045)" font-size="19.5" text-anchor="start" fill="#000" stroke="#000" stroke-width="0.2" textLength="7.6" lengthAdjust="spacingAndGlyphs">−</text>
<text transform="translate(1211.3,864.0) scale(1,1.045)" font-size="19.5" text-anchor="start" fill="#000" stroke="#000" stroke-width="0.2" >3</text>
<text transform="translate(1221.5,874.2) scale(1,1.045)" font-size="29.6" text-anchor="start" fill="#000" stroke="#000" stroke-width="0.35" >)</text>
<line x1="901.9" y1="713.8" x2="1084.7" y2="574.8" stroke="#ea2a2a" stroke-width="1.9" stroke-dasharray="8.5 6.5"/>
<line x1="1097.1" y1="568.8" x2="1277.7" y2="521.6" stroke="#ea2a2a" stroke-width="1.9" stroke-dasharray="8.5 6.5"/>
<line x1="903.3" y1="546.4" x2="1083.3" y2="531.9" stroke="#000" stroke-width="1.9" stroke-dasharray="8.5 6.5"/>
<line x1="1097.2" y1="530.3" x2="1277.6" y2="504.7" stroke="#000" stroke-width="1.9" stroke-dasharray="8.5 6.5"/>
<line x1="903.2" y1="520.3" x2="1083.4" y2="487.0" stroke="#1c1cc8" stroke-width="1.9" stroke-dasharray="8.5 6.5"/>
<line x1="1097.3" y1="485.6" x2="1277.5" y2="482.9" stroke="#1c1cc8" stroke-width="1.9" stroke-dasharray="8.5 6.5"/>
<polyline points="961.0,710.6 1090.3,570.6 1266.9,514.9" fill="none" stroke="#ea2a2a" stroke-width="2"/>
<polyline points="961.0,550.6 1090.3,531.3 1266.9,505.0" fill="none" stroke="#000" stroke-width="2.2"/>
<polyline points="961.0,529.5 1090.3,485.7 1266.9,474.2" fill="none" stroke="#1c1cc8" stroke-width="2"/>
<polygon points="961.0,523.4 955.5,533.3 966.5,533.3" fill="#1c1cc8"/>
<rect x="956.7" y="546.3" width="8.6" height="8.6" fill="#000"/>
<circle cx="961.0" cy="710.6" r="4.6" fill="#ea2a2a"/>
<polygon points="1266.9,468.1 1261.4,478.0 1272.4,478.0" fill="#1c1cc8"/>
<rect x="1262.6" y="500.7" width="8.6" height="8.6" fill="#000"/>
<circle cx="1266.9" cy="514.9" r="4.6" fill="#ea2a2a"/>
<polygon points="896.3,516.6 891.8,524.7 900.8,524.7" fill="#fff" stroke="#1c1cc8" stroke-width="1.5"/>
<rect x="892.8" y="543.5" width="7" height="7" fill="#fff" stroke="#000" stroke-width="1.5"/>
<circle cx="896.3" cy="718.0" r="4.2" fill="#fff" stroke="#ea2a2a" stroke-width="1.5"/>
<polygon points="1284.5,477.8 1280.0,485.9 1289.0,485.9" fill="#fff" stroke="#1c1cc8" stroke-width="1.5"/>
<rect x="1281.0" y="500.2" width="7" height="7" fill="#fff" stroke="#000" stroke-width="1.5"/>
<circle cx="1284.5" cy="519.8" r="4.2" fill="#fff" stroke="#ea2a2a" stroke-width="1.5"/>
<polygon points="1090.3,480.4 1085.5,488.9 1095.0,488.9" fill="#fff" stroke="#1c1cc8" stroke-width="1.5"/>
<rect x="1086.0" y="527.0" width="8.6" height="8.6" fill="#000"/>
<circle cx="1090.3" cy="570.6" r="4.4" fill="#fff" stroke="#ea2a2a" stroke-width="1.5"/>
<text transform="translate(884.0,506.0) scale(1,1.045)" font-size="24.5" text-anchor="start" fill="#000" stroke="#000" stroke-width="0.35" >S1</text>
<text transform="translate(946.0,579.3) scale(1,1.045)" font-size="24.5" text-anchor="start" fill="#000" stroke="#000" stroke-width="0.35" >S4</text>
<text transform="translate(1075.3,472.3) scale(1,1.045)" font-size="24.5" text-anchor="start" fill="#000" stroke="#000" stroke-width="0.35" >S2</text>
<text transform="translate(1251.0,464.4) scale(1,1.045)" font-size="24.5" text-anchor="start" fill="#000" stroke="#000" stroke-width="0.35" >S5</text>
<text transform="translate(1274.2,548.0) scale(1,1.045)" font-size="24.5" text-anchor="start" fill="#000" stroke="#000" stroke-width="0.35" >S3</text>
<path d="M1026.5,657.8 h8 M1038.5,657.8 h5 M1055,657.8 h5 M1064,657.8 h8" stroke="#1c1cc8" stroke-width="1.8" fill="none"/>
<polygon points="1049.3,652.8 1044.8,660.9 1053.8,660.9" fill="#fff" stroke="#1c1cc8" stroke-width="1.4"/>
<text transform="translate(1075.6,667.0) scale(1,1.045)" font-size="24.7" text-anchor="start" fill="#000" stroke="#000" stroke-width="0.35" >Powder-Ta-L, 650 mm/s</text>
<path d="M1026.5,683.8 h8 M1038.5,683.8 h5 M1055,683.8 h5 M1064,683.8 h8" stroke="#000" stroke-width="1.8" fill="none"/>
<rect x="1046.0" y="680.5" width="6.6" height="6.6" fill="#fff" stroke="#000" stroke-width="1.4"/>
<text transform="translate(1075.6,693.0) scale(1,1.045)" font-size="24.7" text-anchor="start" fill="#000" stroke="#000" stroke-width="0.35" >Powder-Ta-M, 650 mm/s</text>
<path d="M1026.5,709.3 h8 M1038.5,709.3 h5 M1055,709.3 h5 M1064,709.3 h8" stroke="#ea2a2a" stroke-width="1.8" fill="none"/>
<circle cx="1049.3" cy="709.3" r="4.0" fill="#fff" stroke="#ea2a2a" stroke-width="1.4"/>
<text transform="translate(1075.6,718.5) scale(1,1.045)" font-size="24.7" text-anchor="start" fill="#000" stroke="#000" stroke-width="0.35" >Powder-Ta-H, 650 mm/s</text>
<line x1="1026.5" y1="735.9" x2="1072" y2="735.9" stroke="#1c1cc8" stroke-width="1.8"/>
<polygon points="1049.3,730.0 1044.0,739.5 1054.5,739.5" fill="#1c1cc8"/>
<text transform="translate(1075.6,743.9) scale(1,1.045)" font-size="24.7" text-anchor="start" fill="#000" stroke="#000" stroke-width="0.35" >Powder-Ta-L, 200 W</text>
<line x1="1026.5" y1="762.0" x2="1072" y2="762.0" stroke="#000" stroke-width="1.8"/>
<rect x="1045.3" y="758.0" width="8" height="8" fill="#000"/>
<text transform="translate(1075.6,769.8) scale(1,1.045)" font-size="24.7" text-anchor="start" fill="#000" stroke="#000" stroke-width="0.35" >Powder-Ta-M, 200 W</text>
<line x1="1026.5" y1="787.4" x2="1072" y2="787.4" stroke="#ea2a2a" stroke-width="1.8"/>
<circle cx="1049.3" cy="787.4" r="4.5" fill="#ea2a2a"/>
<text transform="translate(1075.6,795.4) scale(1,1.045)" font-size="24.7" text-anchor="start" fill="#000" stroke="#000" stroke-width="0.35" >Powder-Ta-H, 200 W</text>
</g>
<g id="chart2">
<defs>
<linearGradient id="ins1" x1="0" y1="0" x2="1" y2="1"><stop offset="0" stop-color="#bcbcbc"/><stop offset="0.5" stop-color="#b5b5b5"/><stop offset="1" stop-color="#b9b9b9"/></linearGradient>
<linearGradient id="ins2" x1="0" y1="0" x2="1" y2="0.6"><stop offset="0" stop-color="#dedede"/><stop offset="0.4" stop-color="#e3e3e3"/><stop offset="1" stop-color="#d2d2d2"/></linearGradient>
<filter id="insblur" x="-5%" y="-5%" width="110%" height="110%"><feGaussianBlur stdDeviation="0.6"/></filter>
<filter id="grain" x="0" y="0" width="100%" height="100%"><feTurbulence type="fractalNoise" baseFrequency="0.09" numOctaves="2" seed="5" result="t"/><feColorMatrix in="t" type="matrix" values="0 0 0 0 0.55  0 0 0 0 0.55  0 0 0 0 0.55  0 0 0 1.6 -0.55"/><feComposite in2="SourceGraphic" operator="in"/></filter>
</defs>
<rect x="1537.9" y="502.7" width="121.6" height="90" fill="url(#ins1)"/>
<rect x="1688.4" y="486.7" width="121.8" height="89.3" fill="url(#ins2)"/>
<g filter="url(#insblur)">
<rect x="1487.8" y="631.2" width="119.8" height="92.4" fill="#e9e9e9"/>
<rect x="1487.8" y="631.2" width="119.8" height="92.4" fill="#000" filter="url(#grain)" opacity="0.28"/>
<g fill="#333" stroke="none">
<ellipse cx="1572.2" cy="633.6" rx="2.6" ry="1.8"/>
<ellipse cx="1537.3" cy="667" rx="1.8" ry="3.2" transform="rotate(25 1537.3 667)"/>
<ellipse cx="1520.2" cy="691.2" rx="4.2" ry="3.2"/>
<ellipse cx="1555.4" cy="695.8" rx="2.6" ry="1.8" transform="rotate(-25 1555.4 695.8)"/>
<ellipse cx="1498.3" cy="719.8" rx="3" ry="2.4"/>
<ellipse cx="1529.8" cy="717.5" rx="3.4" ry="3"/>
<ellipse cx="1524.5" cy="712" rx="1.6" ry="3"/>
<ellipse cx="1488.6" cy="700.5" rx="1" ry="2.4"/>
<ellipse cx="1488.6" cy="707" rx="1" ry="1.6"/>
</g>
<g fill="none" stroke="#444" stroke-width="1.2">
<path d="M1572,636 C1570,640 1574,643 1572.5,648"/>
<circle cx="1591.8" cy="650" r="3.6"/>
<path d="M1526,688 C1529,688 1529,692 1526,693"/>
<path d="M1551,699 C1549,702 1548,704 1547,706 M1550,703 L1555,704"/>
<path d="M1571,698 C1572,694 1576,692 1575,690 M1576,702 C1575,697 1579,695 1580,699 L1580,703"/>
<path d="M1524,707 L1527,709"/>
</g>
</g>
<rect x="1412.5" y="439.8" width="461.8" height="371.8" fill="none" stroke="#000" stroke-width="2.1"/>
<path d="M1458.6,811.6 v-7 M1551.0,811.6 v-7 M1643.3,811.6 v-7 M1735.7,811.6 v-7 M1828.0,811.6 v-7 M1412.5,782.4 h7 M1412.5,725.3 h7 M1412.5,668.2 h7 M1412.5,611.1 h7 M1412.5,554.0 h7 M1412.5,496.9 h7" stroke="#000" stroke-width="1.8" fill="none"/>
<text transform="translate(1458.4,841.2) scale(1,0.975)" font-size="29.5" text-anchor="middle" fill="#000" stroke="#000" stroke-width="0.35" >500</text>
<text transform="translate(1548.3,841.2) scale(1,0.975)" font-size="29.5" text-anchor="middle" fill="#000" stroke="#000" stroke-width="0.35" >1000</text>
<text transform="translate(1643.0,841.2) scale(1,0.975)" font-size="29.5" text-anchor="middle" fill="#000" stroke="#000" stroke-width="0.35" >1500</text>
<text transform="translate(1735.9,841.2) scale(1,0.975)" font-size="29.5" text-anchor="middle" fill="#000" stroke="#000" stroke-width="0.35" >2000</text>
<text transform="translate(1830.9,841.2) scale(1,0.975)" font-size="29.5" text-anchor="middle" fill="#000" stroke="#000" stroke-width="0.35" >2500</text>
<text transform="translate(1405.6,792.2) scale(1,0.975)" font-size="29.5" text-anchor="end" fill="#000" stroke="#000" stroke-width="0.35" >88</text>
<text transform="translate(1405.6,735.1) scale(1,0.975)" font-size="29.5" text-anchor="end" fill="#000" stroke="#000" stroke-width="0.35" >90</text>
<text transform="translate(1405.6,678.0) scale(1,0.975)" font-size="29.5" text-anchor="end" fill="#000" stroke="#000" stroke-width="0.35" >92</text>
<text transform="translate(1405.6,620.9) scale(1,0.975)" font-size="29.5" text-anchor="end" fill="#000" stroke="#000" stroke-width="0.35" >94</text>
<text transform="translate(1405.6,563.8) scale(1,0.975)" font-size="29.5" text-anchor="end" fill="#000" stroke="#000" stroke-width="0.35" >96</text>
<text transform="translate(1405.6,506.7) scale(1,0.975)" font-size="29.5" text-anchor="end" fill="#000" stroke="#000" stroke-width="0.35" >98</text>
<text transform="translate(1405.6,447.4) scale(1,0.975)" font-size="29.5" text-anchor="end" fill="#000" stroke="#000" stroke-width="0.35" >100</text>
<text transform="translate(1362.5,744.7) rotate(-90) scale(1,1.045)" font-size="29.8" text-anchor="start" stroke="#000" stroke-width="0.35" >Relative density/%</text>
<polyline points="1439.5,744.0 1513.7,481.3 1588.1,460.6 1660.6,456.4 1735.4,453.9 1809.8,451.8" fill="none" stroke="#000" stroke-width="1.8"/>
<rect x="1434.9" y="739.4" width="9.2" height="9.2" fill="#000"/>
<rect x="1509.1" y="476.7" width="9.2" height="9.2" fill="#000"/>
<rect x="1583.5" y="456.0" width="9.2" height="9.2" fill="#000"/>
<rect x="1656.0" y="451.8" width="9.2" height="9.2" fill="#000"/>
<rect x="1730.8" y="449.3" width="9.2" height="9.2" fill="#000"/>
<rect x="1805.2" y="447.2" width="9.2" height="9.2" fill="#000"/>
<polyline points="1432.9,789.4 1477.4,586.3 1543.6,464.9 1588.1,461.6 1631.9,463.0 1699.1,460.6" fill="none" stroke="#f01818" stroke-width="1.4"/>
<circle cx="1432.9" cy="789.4" r="4.7" fill="#f01818"/>
<circle cx="1477.4" cy="586.3" r="4.7" fill="#f01818"/>
<circle cx="1543.6" cy="464.9" r="4.7" fill="#f01818"/>
<circle cx="1588.1" cy="461.6" r="4.7" fill="#f01818"/>
<circle cx="1631.9" cy="463.0" r="4.7" fill="#f01818"/>
<circle cx="1699.1" cy="460.6" r="4.7" fill="#f01818"/>
<polyline points="1445.4,750.0 1492.3,509.8 1524.7,483.4 1572.4,464.2 1619.4,459.2 1667.8,455.6" fill="none" stroke="#1020c4" stroke-width="1.5"/>
<polygon points="1445.4,743.6 1439.7,753.9 1451.2,753.9" fill="#1020c4"/>
<polygon points="1492.3,503.4 1486.5,513.7 1498.0,513.7" fill="#1020c4"/>
<polygon points="1524.7,477.0 1519.0,487.3 1530.5,487.3" fill="#1020c4"/>
<polygon points="1572.4,457.8 1566.7,468.1 1578.2,468.1" fill="#1020c4"/>
<polygon points="1619.4,452.8 1613.7,463.1 1625.2,463.1" fill="#1020c4"/>
<polygon points="1667.8,449.2 1662.0,459.5 1673.5,459.5" fill="#1020c4"/>
<polyline points="1453.3,741.6 1489.0,566.8 1513.3,492.7 1563.1,467.8 1611.9,462.1 1661.6,458.5" fill="none" stroke="#0a6a2c" stroke-width="1.5"/>
<polygon points="1453.3,748.0 1447.5,737.7 1459.0,737.7" fill="#0a6a2c"/>
<polygon points="1489.0,573.2 1483.2,562.9 1494.8,562.9" fill="#0a6a2c"/>
<polygon points="1513.3,499.1 1507.5,488.8 1519.0,488.8" fill="#0a6a2c"/>
<polygon points="1563.1,474.2 1557.3,463.9 1568.8,463.9" fill="#0a6a2c"/>
<polygon points="1611.9,468.5 1606.2,458.2 1617.7,458.2" fill="#0a6a2c"/>
<polygon points="1661.6,464.9 1655.8,454.6 1667.3,454.6" fill="#0a6a2c"/>
<circle cx="1477.4" cy="586.3" r="9.6" fill="none" stroke="#d91c1c" stroke-width="2.2"/>
<circle cx="1588.1" cy="461.1" r="9.6" fill="none" stroke="#d91c1c" stroke-width="2.2"/>
<circle cx="1699.1" cy="460.6" r="9.6" fill="none" stroke="#d91c1c" stroke-width="2.2"/>
<defs><marker id="ah" viewBox="0 0 10 10" refX="8" refY="5" markerWidth="4.2" markerHeight="4.2" orient="auto"><path d="M0,0 L10,5 L0,10 L2.5,5 Z" fill="#d91c1c"/></marker></defs>
<g stroke="#d91c1c" stroke-width="2" fill="none" marker-end="url(#ah)"><line x1="1588.1" y1="471" x2="1588.1" y2="495.5"/><line x1="1481.5" y1="595.5" x2="1493" y2="622"/><line x1="1706" y1="467.5" x2="1722" y2="483"/></g>
<text transform="translate(1540.3,517.6) scale(1,1.045)" font-size="17.2" text-anchor="start" fill="#000" stroke="#000" stroke-width="0.2" >99.16%</text>
<text transform="translate(1691.0,503.4) scale(1,1.045)" font-size="17.2" text-anchor="start" fill="#000" stroke="#000" stroke-width="0.2" >99.23%</text>
<text transform="translate(1489.0,646.8) scale(1,1.045)" font-size="17.2" text-anchor="start" fill="#000" stroke="#000" stroke-width="0.2" >94.85%</text>
<rect x="1609.0" y="573.5" width="49.5" height="19" fill="#fff"/>
<text transform="translate(1611.2,587.4) scale(1,1.045)" font-size="14.8" text-anchor="start" fill="#000" stroke="#000" stroke-width="0.2" >200 µm</text>
<rect x="1628.2" y="589.8" width="17.6" height="1.3" fill="#222"/>
<rect x="1759.6" y="555.4" width="48.6" height="19.2" fill="#fff"/>
<text transform="translate(1761.8,568.5) scale(1,1.045)" font-size="14.8" text-anchor="start" fill="#000" stroke="#000" stroke-width="0.2" >200 µm</text>
<rect x="1778.9" y="570.9" width="17.6" height="1.3" fill="#222"/>
<text transform="translate(1559.8,714.7) scale(1,1.045)" font-size="14.8" text-anchor="start" fill="#000" stroke="#000" stroke-width="0.2" >200 µm</text>
<rect x="1577.9" y="717.4" width="17.2" height="1.3" fill="#222"/>
<line x1="1732.6" y1="682.4" x2="1779.8" y2="682.4" stroke="#000" stroke-width="1.4"/>
<rect x="1752.0" y="678.1" width="8.6" height="8.6" fill="#000"/>
<text transform="translate(1783.9,691.3) scale(1,1.045)" font-size="25.2" text-anchor="start" fill="#000" stroke="#000" stroke-width="0.35" >0.3 m/s</text>
<line x1="1732.6" y1="708.0" x2="1779.8" y2="708.0" stroke="#f01818" stroke-width="1.4"/>
<circle cx="1756.3" cy="708.0" r="4.5" fill="#f01818"/>
<text transform="translate(1783.9,716.9) scale(1,1.045)" font-size="25.2" text-anchor="start" fill="#000" stroke="#000" stroke-width="0.35" >0.5 m/s</text>
<line x1="1732.6" y1="734.4" x2="1779.8" y2="734.4" stroke="#1020c4" stroke-width="1.4"/>
<polygon points="1756.3,728.3 1750.8,738.2 1761.8,738.2" fill="#1020c4"/>
<text transform="translate(1783.9,742.9) scale(1,1.045)" font-size="25.2" text-anchor="start" fill="#000" stroke="#000" stroke-width="0.35" >0.7 m/s</text>
<line x1="1732.6" y1="761.1" x2="1779.8" y2="761.1" stroke="#0a6a2c" stroke-width="1.4"/>
<polygon points="1756.3,767.2 1750.8,757.3 1761.8,757.3" fill="#0a6a2c"/>
<text transform="translate(1783.9,768.6) scale(1,1.045)" font-size="25.2" text-anchor="start" fill="#000" stroke="#000" stroke-width="0.35" >0.9 m/s</text>
<text transform="translate(1482.3,877.9) scale(1,1.045)" font-size="29.8" text-anchor="start" fill="#000" stroke="#000" stroke-width="0.35" >Line energy density/(J</text>
<text transform="translate(1751.0,879.0) scale(1,1.045)" font-size="24" text-anchor="start" fill="#000" stroke="#000" stroke-width="0.35" >•</text>
<text transform="translate(1761.6,877.9) scale(1,1.045)" font-size="29.8" text-anchor="start" fill="#000" stroke="#000" stroke-width="0.35" >m</text>
<text transform="translate(1784.9,868.3) scale(1,1.045)" font-size="19.5" text-anchor="start" fill="#000" stroke="#000" stroke-width="0.2" textLength="6.8" lengthAdjust="spacingAndGlyphs">−</text>
<text transform="translate(1792.3,868.3) scale(1,1.045)" font-size="19.5" text-anchor="start" fill="#000" stroke="#000" stroke-width="0.2" >1</text>
<text transform="translate(1802.8,877.9) scale(1,1.045)" font-size="29.8" text-anchor="start" fill="#000" stroke="#000" stroke-width="0.35" >)</text>
</g>
<g id="chart3">
<rect x="1094.5" y="965.3" width="483.8" height="356.0" fill="none" stroke="#000" stroke-width="2.0"/>
<path d="M1122.6,1321.3 v-7.5 M1179.6,1321.3 v-7.5 M1236.5,1321.3 v-7.5 M1293.5,1321.3 v-7.5 M1350.4,1321.3 v-7.5 M1407.4,1321.3 v-7.5 M1464.4,1321.3 v-7.5 M1521.3,1321.3 v-7.5 M1094.5,1262.0 h7.5 M1094.5,1202.6 h7.5 M1094.5,1143.3 h7.5 M1094.5,1084.0 h7.5 M1094.5,1024.6 h7.5 M1578.3,1276.8 h-7.5 M1578.3,1232.3 h-7.5 M1578.3,1187.8 h-7.5 M1578.3,1143.3 h-7.5 M1578.3,1098.8 h-7.5 M1578.3,1054.3 h-7.5 M1578.3,1009.8 h-7.5" stroke="#000" stroke-width="1.6" fill="none"/>
<text transform="translate(1122.8,1350.0) scale(1,0.975)" font-size="29.0" text-anchor="middle" fill="#000" stroke="#000" stroke-width="0.35" >150</text>
<text transform="translate(1179.8,1350.0) scale(1,0.975)" font-size="29.0" text-anchor="middle" fill="#000" stroke="#000" stroke-width="0.35" >200</text>
<text transform="translate(1236.7,1350.0) scale(1,0.975)" font-size="29.0" text-anchor="middle" fill="#000" stroke="#000" stroke-width="0.35" >250</text>
<text transform="translate(1293.7,1350.0) scale(1,0.975)" font-size="29.0" text-anchor="middle" fill="#000" stroke="#000" stroke-width="0.35" >300</text>
<text transform="translate(1350.6,1350.0) scale(1,0.975)" font-size="29.0" text-anchor="middle" fill="#000" stroke="#000" stroke-width="0.35" >350</text>
<text transform="translate(1407.6,1350.0) scale(1,0.975)" font-size="29.0" text-anchor="middle" fill="#000" stroke="#000" stroke-width="0.35" >400</text>
<text transform="translate(1464.6,1350.0) scale(1,0.975)" font-size="29.0" text-anchor="middle" fill="#000" stroke="#000" stroke-width="0.35" >450</text>
<text transform="translate(1521.5,1350.0) scale(1,0.975)" font-size="29.0" text-anchor="middle" fill="#000" stroke="#000" stroke-width="0.35" >500</text>
<text transform="translate(1578.5,1350.0) scale(1,0.975)" font-size="29.0" text-anchor="middle" fill="#000" stroke="#000" stroke-width="0.35" >550</text>
<text transform="translate(1086.4,1329.4) scale(1,0.975)" font-size="29.2" text-anchor="end" fill="#000" stroke="#000" stroke-width="0.35" >300</text>
<text transform="translate(1086.4,1270.1) scale(1,0.975)" font-size="29.2" text-anchor="end" fill="#000" stroke="#000" stroke-width="0.35" >350</text>
<text transform="translate(1086.4,1210.7) scale(1,0.975)" font-size="29.2" text-anchor="end" fill="#000" stroke="#000" stroke-width="0.35" >400</text>
<text transform="translate(1086.4,1151.4) scale(1,0.975)" font-size="29.2" text-anchor="end" fill="#000" stroke="#000" stroke-width="0.35" >450</text>
<text transform="translate(1086.4,1092.1) scale(1,0.975)" font-size="29.2" text-anchor="end" fill="#000" stroke="#000" stroke-width="0.35" >500</text>
<text transform="translate(1086.4,1032.7) scale(1,0.975)" font-size="29.2" text-anchor="end" fill="#000" stroke="#000" stroke-width="0.35" >550</text>
<text transform="translate(1086.4,973.4) scale(1,0.975)" font-size="29.2" text-anchor="end" fill="#000" stroke="#000" stroke-width="0.35" >600</text>
<text transform="translate(1585.4,1329.5) scale(1,0.975)" font-size="29.2" text-anchor="start" fill="#000" stroke="#000" stroke-width="0.35" >20</text>
<text transform="translate(1585.4,1285.0) scale(1,0.975)" font-size="29.2" text-anchor="start" fill="#000" stroke="#000" stroke-width="0.35" >25</text>
<text transform="translate(1585.4,1240.5) scale(1,0.975)" font-size="29.2" text-anchor="start" fill="#000" stroke="#000" stroke-width="0.35" >30</text>
<text transform="translate(1585.4,1196.0) scale(1,0.975)" font-size="29.2" text-anchor="start" fill="#000" stroke="#000" stroke-width="0.35" >35</text>
<text transform="translate(1585.4,1151.5) scale(1,0.975)" font-size="29.2" text-anchor="start" fill="#000" stroke="#000" stroke-width="0.35" >40</text>
<text transform="translate(1585.4,1107.0) scale(1,0.975)" font-size="29.2" text-anchor="start" fill="#000" stroke="#000" stroke-width="0.35" >45</text>
<text transform="translate(1585.4,1062.5) scale(1,0.975)" font-size="29.2" text-anchor="start" fill="#000" stroke="#000" stroke-width="0.35" >50</text>
<text transform="translate(1585.4,1018.0) scale(1,0.975)" font-size="29.2" text-anchor="start" fill="#000" stroke="#000" stroke-width="0.35" >55</text>
<text transform="translate(1585.4,972.9) scale(1,0.975)" font-size="29.2" text-anchor="start" fill="#000" stroke="#000" stroke-width="0.35" >60</text>
<text transform="translate(1031.8,1222.4) rotate(-90) scale(1,1.045)" font-size="30.2" text-anchor="start" stroke="#000" stroke-width="0.35" >Strength/MPa</text>
<text transform="translate(1650.2,1223.4) rotate(-90) scale(1,1.045)" font-size="29.5" text-anchor="start" stroke="#000" stroke-width="0.35" >Elongation/%</text>
<text transform="translate(1212.3,1379.2) scale(1,1.045)" font-size="29.4" text-anchor="start" fill="#000" stroke="#000" stroke-width="0.35" >Oxygen content/10</text>
<text transform="translate(1440.2,1368.8) scale(1,1.045)" font-size="19.5" text-anchor="start" fill="#000" stroke="#000" stroke-width="0.2" textLength="9.6" lengthAdjust="spacingAndGlyphs">−</text>
<text transform="translate(1450.4,1368.8) scale(1,1.045)" font-size="19.5" text-anchor="start" fill="#000" stroke="#000" stroke-width="0.2" >6</text>
<polyline points="1133.8,1213.0 1350.4,1081.6 1532.7,987.5" fill="none" stroke="#111" stroke-width="1.2"/>
<path d="M1133.8,1201 V1225 M1130.2,1201 h7.2 M1130.2,1225 h7.2 M1350.4,1063.8 V1099.4 M1346.8,1063.8 h7.2 M1346.8,1099.4 h7.2 M1532.7,972.6 V1001.7 M1529.1,972.6 h7.2 M1529.1,1001.7 h7.2" stroke="#111" stroke-width="1.1" fill="none"/>
<polyline points="1133.8,1274.8 1350.4,1121.5 1532.7,1060.9" fill="none" stroke="#a8363a" stroke-width="1.2"/>
<path d="M1133.8,1262.8 V1286.8 M1130.2,1262.8 h7.2 M1130.2,1286.8 h7.2 M1350.4,1107.4 V1136 M1346.8,1107.4 h7.2 M1346.8,1136 h7.2 M1532.7,1043 V1078.7 M1529.1,1043 h7.2 M1529.1,1078.7 h7.2" stroke="#a8363a" stroke-width="1.1" fill="none"/>
<polyline points="1133.8,1125.4 1350.4,1180.4 1532.7,1241.0" fill="none" stroke="#45459a" stroke-width="1.2"/>
<path d="M1133.8,1116 V1134.5 M1130.2,1116 h7.2 M1130.2,1134.5 h7.2 M1350.4,1167 V1193.4 M1346.8,1167 h7.2 M1346.8,1193.4 h7.2 M1532.7,1222.5 V1258.8 M1529.1,1222.5 h7.2 M1529.1,1258.8 h7.2" stroke="#45459a" stroke-width="1.1" fill="none"/>
<rect x="1129.5" y="1208.7" width="8.6" height="8.6" fill="#000"/>
<rect x="1346.1" y="1077.3" width="8.6" height="8.6" fill="#000"/>
<rect x="1528.4" y="983.2" width="8.6" height="8.6" fill="#000"/>
<circle cx="1133.8" cy="1274.8" r="4.7" fill="#e01010"/>
<circle cx="1350.4" cy="1121.5" r="4.7" fill="#e01010"/>
<circle cx="1532.7" cy="1060.9" r="4.7" fill="#e01010"/>
<circle cx="1133.8" cy="1125.4" r="4.2" fill="#fff" stroke="#45459a" stroke-width="1.2"/>
<circle cx="1350.4" cy="1180.4" r="4.2" fill="#fff" stroke="#45459a" stroke-width="1.2"/>
<circle cx="1532.7" cy="1241.0" r="4.2" fill="#fff" stroke="#45459a" stroke-width="1.2"/>
<line x1="1108.1" y1="979.2" x2="1150" y2="979.2" stroke="#111" stroke-width="1.2"/>
<rect x="1125.6" y="975.4" width="7.6" height="7.6" fill="#000"/>
<text transform="translate(1156.3,987.6) scale(1,1.045)" font-size="25.5" text-anchor="start" fill="#000" stroke="#000" stroke-width="0.35" >Ultimate tensile strength</text>
<line x1="1108.1" y1="1006.8" x2="1150" y2="1006.8" stroke="#a8363a" stroke-width="1.2"/>
<circle cx="1129.4" cy="1006.8" r="4.3" fill="#e01010"/>
<text transform="translate(1156.3,1013.6) scale(1,1.045)" font-size="25.5" text-anchor="start" fill="#000" stroke="#000" stroke-width="0.35" >Yield tensile strength</text>
<line x1="1108.1" y1="1030.7" x2="1150" y2="1030.7" stroke="#45459a" stroke-width="1.2"/>
<circle cx="1129.4" cy="1030.7" r="3.8" fill="#fff" stroke="#45459a" stroke-width="1.2"/>
<text transform="translate(1156.3,1039.2) scale(1,1.045)" font-size="25.5" text-anchor="start" fill="#000" stroke="#000" stroke-width="0.35" >Elongation</text>
</g>
</svg>
</body></html>
